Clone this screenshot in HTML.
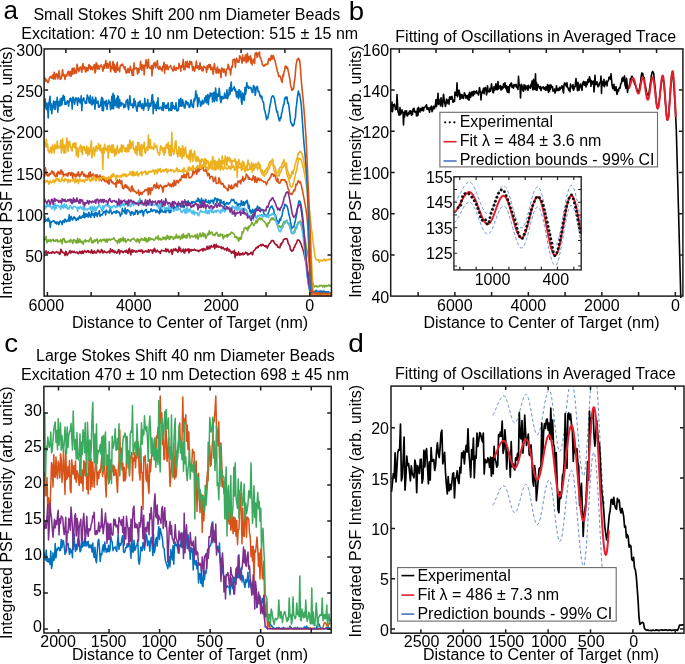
<!DOCTYPE html>
<html><head><meta charset="utf-8"><style>
html,body{margin:0;padding:0;background:#fff;}
svg{display:block;will-change:transform;}
text{fill:#000;font-family:"Liberation Sans", sans-serif;}
</style></head><body>
<svg width="685" height="664" viewBox="0 0 685 664" font-family="Liberation Sans, sans-serif">
<rect width="685" height="664" fill="#fff"/>
<defs><clipPath id="clipA"><rect x="44.1" y="48.9" width="287.4" height="247.20000000000002"/></clipPath></defs>
<g fill="none" stroke-width="1.6" stroke-linejoin="round" clip-path="url(#clipA)">
<polyline stroke="#A2142F" points="44.0,252.7 44.7,253.4 45.4,252.8 46.1,250.7 46.8,253.6 47.5,253.0 48.2,251.8 48.9,253.2 49.6,253.0 50.3,252.9 51.0,252.6 51.7,253.3 52.4,251.6 53.1,252.4 53.8,252.0 54.5,253.4 55.2,252.7 55.9,252.2 56.6,251.6 57.3,252.3 58.0,252.7 58.7,252.3 59.4,254.3 60.1,254.0 60.8,249.2 61.5,250.2 62.2,252.5 62.9,252.1 63.6,253.0 64.3,253.0 65.0,255.5 65.7,251.3 66.4,252.2 67.1,255.4 67.8,253.5 68.5,253.6 69.2,252.0 69.9,250.5 70.6,252.9 71.3,252.8 72.0,251.0 72.7,251.7 73.4,252.5 74.1,251.3 74.8,252.4 75.5,252.7 76.2,252.5 76.9,251.8 77.6,253.2 78.3,253.6 79.0,252.8 79.7,251.3 80.4,253.3 81.1,251.7 81.8,253.4 82.5,250.9 83.2,253.4 83.9,252.2 84.6,250.5 85.3,251.7 86.0,252.2 86.7,252.4 87.4,250.8 88.1,250.6 88.8,252.3 89.5,251.4 90.2,252.3 90.9,253.0 91.6,249.8 92.3,252.3 93.0,253.5 93.7,251.5 94.4,250.9 95.1,252.9 95.8,252.2 96.5,253.0 97.2,251.4 97.9,249.9 98.6,251.7 99.3,251.2 100.0,252.8 100.7,252.0 101.4,249.6 102.1,250.2 102.8,252.9 103.5,252.6 104.2,250.9 104.9,251.7 105.6,252.3 106.3,252.3 107.0,252.8 107.7,252.0 108.4,251.5 109.1,251.3 109.8,253.0 110.5,248.7 111.2,251.4 111.9,251.7 112.6,249.8 113.3,252.0 114.0,250.8 114.7,252.7 115.4,251.4 116.1,252.5 116.8,253.2 117.5,252.1 118.2,250.4 118.9,249.6 119.6,253.9 120.3,251.4 121.0,250.7 121.7,251.8 122.4,251.3 123.1,252.7 123.8,251.6 124.5,251.6 125.2,250.6 125.9,252.2 126.6,250.2 127.3,252.4 128.0,253.5 128.7,249.6 129.4,248.3 130.1,252.3 130.8,254.8 131.5,250.2 132.2,249.9 132.9,252.3 133.6,250.4 134.3,250.9 135.0,251.1 135.7,252.2 136.4,251.0 137.1,251.9 137.8,251.3 138.5,250.4 139.2,251.1 139.9,250.2 140.6,251.5 141.3,250.0 142.0,250.0 142.7,253.3 143.4,251.3 144.1,251.3 144.8,252.0 145.5,250.8 146.2,251.0 146.9,251.9 147.6,251.7 148.3,249.8 149.0,252.3 149.7,250.5 150.4,249.8 151.1,250.0 151.8,250.6 152.5,253.3 153.2,249.6 153.9,251.3 154.6,248.3 155.3,251.0 156.0,252.2 156.7,250.7 157.4,250.2 158.1,251.3 158.8,251.9 159.5,251.8 160.2,253.5 160.9,251.2 161.6,250.1 162.3,250.7 163.0,250.8 163.7,251.0 164.4,250.8 165.1,251.0 165.8,248.6 166.5,251.8 167.2,250.0 167.9,249.2 168.6,251.5 169.3,252.4 170.0,251.3 170.7,250.8 171.4,249.4 172.1,254.3 172.8,251.7 173.5,249.1 174.2,249.5 174.9,250.6 175.6,248.5 176.3,250.7 177.0,249.9 177.7,252.1 178.4,251.7 179.1,246.9 179.8,250.5 180.5,248.3 181.2,251.9 181.9,250.6 182.6,251.1 183.3,249.0 184.0,252.8 184.7,253.0 185.4,249.0 186.1,250.9 186.8,249.5 187.5,250.4 188.2,248.8 188.9,252.9 189.6,249.2 190.3,250.1 191.0,251.2 191.7,249.7 192.4,250.2 193.1,249.8 193.8,250.4 194.5,249.1 195.2,250.1 195.9,250.4 196.6,250.2 197.3,250.8 198.0,250.3 198.7,251.7 199.4,250.3 200.1,250.5 200.8,249.8 201.5,249.9 202.2,248.8 202.9,251.0 203.6,248.6 204.3,248.9 205.0,250.1 205.7,249.9 206.4,248.6 207.1,246.2 207.8,249.1 208.5,248.6 209.2,246.1 209.9,248.7 210.6,246.5 211.3,245.7 212.0,247.1 212.7,246.5 213.4,246.8 214.1,244.4 214.8,248.7 215.5,245.5 216.2,244.3 216.9,247.2 217.6,246.0 218.3,247.1 219.0,246.4 219.7,247.0 220.4,247.7 221.1,246.6 221.8,248.8 222.5,247.6 223.2,247.4 223.9,248.9 224.6,249.7 225.3,249.1 226.0,248.6 226.7,250.7 227.4,247.9 228.1,249.2 228.8,250.9 229.5,249.4 230.2,251.5 230.9,251.8 231.6,253.3 232.3,251.3 233.0,252.0 233.7,253.5 234.4,250.2 235.1,257.6 235.8,252.9 236.5,253.0 237.2,255.2 237.9,254.1 238.6,251.9 239.3,255.0 240.0,255.3 240.7,253.6 241.4,253.8 242.1,254.7 242.8,252.9 243.5,254.6 244.2,254.3 244.9,253.1 245.6,252.1 246.3,253.5 247.0,252.6 247.7,255.0 248.4,253.8 249.1,254.5 249.8,253.6 250.5,253.7 251.2,252.2 251.9,253.8 252.6,254.8 253.3,251.5 254.0,250.4 254.7,250.2 255.4,248.9 256.1,247.8 256.8,248.1 257.5,246.7 258.2,247.5 258.9,245.7 259.6,245.4 260.3,245.6 261.0,244.4 261.7,245.8 262.4,244.4 263.1,244.6 263.8,245.5 264.5,246.2 265.2,245.6 265.9,247.0 266.6,245.9 267.3,248.1 268.0,246.3 268.7,245.0 269.4,243.8 270.1,243.1 270.8,242.3 271.5,240.8 272.2,240.4 272.9,240.9 273.6,240.9 274.3,242.8 275.0,243.9 275.7,244.0 276.4,245.5 277.1,245.0 277.8,247.3 278.5,247.1 279.2,247.5 279.9,247.9 280.6,243.9 281.3,244.8 282.0,242.5 282.7,242.5 283.4,239.7 284.1,239.3 284.8,239.0 285.5,238.9 286.2,238.6 286.9,238.8 287.6,240.5 288.3,243.5 289.0,244.8 289.7,245.5 290.4,249.3 291.1,250.3 291.8,251.4 292.5,250.2 293.2,250.4 293.9,247.6 294.6,247.3 295.3,244.7 296.0,243.9 296.7,242.7 297.4,240.1 298.1,240.0 298.8,240.1 299.5,240.8 300.2,242.1 300.9,243.7 301.6,245.7 302.3,247.7 303.0,249.8 303.7,252.3 304.4,255.4 305.1,258.8 305.8,262.2 306.5,265.5 307.2,268.7 307.9,272.1 308.6,275.8 309.3,280.8 310.0,286.9 310.7,291.9 311.4,293.7 312.1,294.3 312.8,294.7 313.5,294.9 314.2,295.0 314.9,295.5 315.6,295.2 316.3,294.7 317.0,295.3 317.7,295.3 318.4,295.0 319.1,294.9 319.8,294.9 320.5,294.3 321.2,295.1 321.9,295.1 322.6,294.7 323.3,295.3 324.0,294.5 324.7,294.8 325.4,294.8 326.1,295.8 326.8,294.4 327.5,295.2 328.2,295.4 328.9,295.2 329.6,295.5 330.3,294.6 331.0,294.1"/>
<polyline stroke="#77AC30" points="44.0,240.2 44.7,239.2 45.4,239.4 46.1,236.6 46.8,242.6 47.5,241.8 48.2,239.7 48.9,241.3 49.6,240.7 50.3,239.6 51.0,241.8 51.7,240.0 52.4,240.0 53.1,239.4 53.8,241.2 54.5,240.5 55.2,241.4 55.9,239.8 56.6,240.9 57.3,239.5 58.0,242.0 58.7,241.1 59.4,241.3 60.1,241.4 60.8,239.5 61.5,242.0 62.2,243.8 62.9,238.7 63.6,238.5 64.3,238.9 65.0,242.2 65.7,241.2 66.4,242.5 67.1,242.0 67.8,241.3 68.5,241.4 69.2,240.8 69.9,242.2 70.6,239.4 71.3,240.4 72.0,241.3 72.7,243.5 73.4,239.9 74.1,239.5 74.8,240.2 75.5,242.4 76.2,240.7 76.9,242.9 77.6,238.4 78.3,242.6 79.0,242.4 79.7,239.0 80.4,241.2 81.1,242.7 81.8,241.1 82.5,242.4 83.2,244.3 83.9,241.4 84.6,240.6 85.3,239.9 86.0,241.9 86.7,240.7 87.4,240.7 88.1,240.9 88.8,241.9 89.5,239.5 90.2,238.9 90.9,237.6 91.6,242.7 92.3,241.1 93.0,243.1 93.7,240.9 94.4,239.9 95.1,241.6 95.8,240.7 96.5,239.1 97.2,239.5 97.9,243.2 98.6,241.2 99.3,241.2 100.0,240.2 100.7,239.6 101.4,241.8 102.1,240.3 102.8,239.4 103.5,240.2 104.2,239.1 104.9,240.6 105.6,241.9 106.3,239.1 107.0,242.2 107.7,239.2 108.4,240.4 109.1,238.9 109.8,239.8 110.5,240.1 111.2,239.4 111.9,239.0 112.6,239.1 113.3,238.9 114.0,237.8 114.7,239.6 115.4,240.6 116.1,241.3 116.8,240.9 117.5,243.4 118.2,240.4 118.9,239.4 119.6,242.6 120.3,238.5 121.0,241.4 121.7,238.7 122.4,240.5 123.1,237.2 123.8,241.3 124.5,239.8 125.2,238.6 125.9,242.3 126.6,241.1 127.3,240.1 128.0,239.0 128.7,239.9 129.4,239.8 130.1,241.0 130.8,241.1 131.5,239.1 132.2,239.2 132.9,239.3 133.6,238.1 134.3,239.2 135.0,239.9 135.7,241.0 136.4,241.8 137.1,238.9 137.8,240.8 138.5,239.4 139.2,242.9 139.9,239.9 140.6,240.7 141.3,238.6 142.0,238.8 142.7,240.2 143.4,239.3 144.1,240.3 144.8,237.6 145.5,240.7 146.2,238.5 146.9,242.1 147.6,239.2 148.3,241.1 149.0,237.6 149.7,240.1 150.4,238.2 151.1,238.7 151.8,239.4 152.5,238.9 153.2,239.6 153.9,240.3 154.6,240.1 155.3,239.0 156.0,237.1 156.7,237.9 157.4,238.7 158.1,235.9 158.8,239.9 159.5,238.5 160.2,238.4 160.9,240.0 161.6,239.6 162.3,238.9 163.0,237.1 163.7,238.9 164.4,238.9 165.1,237.1 165.8,239.7 166.5,238.9 167.2,235.4 167.9,238.2 168.6,236.2 169.3,239.5 170.0,238.9 170.7,236.2 171.4,236.4 172.1,237.7 172.8,237.1 173.5,239.5 174.2,238.3 174.9,236.8 175.6,238.0 176.3,234.2 177.0,237.4 177.7,238.1 178.4,236.6 179.1,235.8 179.8,237.5 180.5,239.4 181.2,236.9 181.9,235.0 182.6,238.5 183.3,233.8 184.0,237.1 184.7,235.6 185.4,237.6 186.1,235.1 186.8,238.1 187.5,236.7 188.2,233.8 188.9,233.5 189.6,235.8 190.3,238.0 191.0,236.3 191.7,236.2 192.4,235.8 193.1,237.1 193.8,236.6 194.5,236.5 195.2,234.7 195.9,237.7 196.6,237.9 197.3,234.1 198.0,239.1 198.7,236.9 199.4,235.2 200.1,233.1 200.8,236.6 201.5,236.4 202.2,234.6 202.9,232.7 203.6,236.6 204.3,234.0 205.0,234.0 205.7,238.4 206.4,237.3 207.1,235.5 207.8,233.4 208.5,234.9 209.2,230.8 209.9,234.2 210.6,233.0 211.3,232.3 212.0,232.0 212.7,235.0 213.4,234.5 214.1,234.6 214.8,235.7 215.5,233.4 216.2,233.0 216.9,232.3 217.6,234.4 218.3,236.1 219.0,235.0 219.7,236.2 220.4,233.9 221.1,235.1 221.8,234.9 222.5,234.4 223.2,238.9 223.9,237.6 224.6,235.5 225.3,235.6 226.0,236.6 226.7,234.7 227.4,237.1 228.1,234.4 228.8,235.4 229.5,234.1 230.2,234.4 230.9,232.9 231.6,232.2 232.3,232.8 233.0,233.1 233.7,233.7 234.4,234.6 235.1,237.2 235.8,237.1 236.5,236.5 237.2,238.7 237.9,237.5 238.6,241.1 239.3,240.1 240.0,237.2 240.7,239.3 241.4,238.2 242.1,231.8 242.8,232.9 243.5,231.6 244.2,228.1 244.9,228.0 245.6,227.4 246.3,228.8 247.0,228.0 247.7,230.8 248.4,226.2 249.1,228.0 249.8,226.1 250.5,226.0 251.2,223.6 251.9,222.2 252.6,223.3 253.3,225.0 254.0,225.5 254.7,223.6 255.4,222.8 256.1,220.2 256.8,222.9 257.5,222.0 258.2,219.1 258.9,219.1 259.6,217.8 260.3,219.8 261.0,218.7 261.7,218.3 262.4,219.4 263.1,220.6 263.8,221.1 264.5,221.8 265.2,222.9 265.9,223.4 266.6,225.7 267.3,227.0 268.0,222.8 268.7,223.5 269.4,222.6 270.1,220.1 270.8,220.1 271.5,218.0 272.2,219.5 272.9,217.8 273.6,218.8 274.3,220.1 275.0,220.1 275.7,220.1 276.4,222.5 277.1,225.0 277.8,225.3 278.5,226.5 279.2,225.9 279.9,227.1 280.6,227.4 281.3,226.2 282.0,227.2 282.7,224.4 283.4,222.8 284.1,221.3 284.8,223.0 285.5,221.3 286.2,221.9 286.9,221.3 287.6,223.0 288.3,223.9 289.0,224.1 289.7,226.6 290.4,229.2 291.1,228.9 291.8,232.7 292.5,233.3 293.2,233.1 293.9,231.5 294.6,230.9 295.3,228.2 296.0,227.6 296.7,225.3 297.4,224.3 298.1,222.3 298.8,221.9 299.5,222.1 300.2,221.0 300.9,221.9 301.6,223.6 302.3,225.7 303.0,228.0 303.7,231.0 304.4,235.1 305.1,239.6 305.8,243.9 306.5,247.6 307.2,251.2 307.9,254.8 308.6,258.5 309.3,262.5 310.0,266.5 310.7,270.6 311.4,275.3 312.1,279.7 312.8,282.5 313.5,284.7 314.2,287.0 314.9,286.2 315.6,286.2 316.3,285.8 317.0,286.7 317.7,286.3 318.4,287.0 319.1,286.2 319.8,285.4 320.5,285.7 321.2,285.4 321.9,285.2 322.6,286.8 323.3,286.5 324.0,285.3 324.7,287.1 325.4,286.1 326.1,285.4 326.8,286.2 327.5,286.0 328.2,285.5 328.9,284.8 329.6,286.0 330.3,286.2 331.0,284.5"/>
<polyline stroke="#0072BD" points="44.0,223.5 44.7,215.9 45.4,221.3 46.1,219.8 46.8,220.2 47.5,220.9 48.2,218.0 48.9,221.2 49.6,220.3 50.3,227.5 51.0,222.4 51.7,221.5 52.4,221.7 53.1,221.1 53.8,220.5 54.5,221.7 55.2,223.2 55.9,222.0 56.6,224.0 57.3,222.0 58.0,222.3 58.7,224.8 59.4,222.9 60.1,221.0 60.8,221.4 61.5,222.4 62.2,224.6 62.9,220.7 63.6,220.5 64.3,222.5 65.0,219.1 65.7,219.9 66.4,221.7 67.1,221.0 67.8,220.1 68.5,220.9 69.2,214.8 69.9,221.2 70.6,217.7 71.3,216.4 72.0,219.5 72.7,220.1 73.4,218.0 74.1,216.8 74.8,218.5 75.5,218.2 76.2,220.6 76.9,219.3 77.6,218.2 78.3,219.7 79.0,217.3 79.7,215.9 80.4,218.3 81.1,218.2 81.8,216.7 82.5,215.6 83.2,217.2 83.9,212.4 84.6,217.7 85.3,217.2 86.0,213.5 86.7,216.2 87.4,214.3 88.1,217.1 88.8,212.3 89.5,214.1 90.2,216.7 90.9,217.3 91.6,211.6 92.3,214.3 93.0,215.5 93.7,213.8 94.4,217.4 95.1,212.6 95.8,215.0 96.5,212.5 97.2,216.5 97.9,214.0 98.6,213.2 99.3,210.8 100.0,216.5 100.7,214.7 101.4,214.6 102.1,215.1 102.8,213.7 103.5,211.9 104.2,211.5 104.9,211.4 105.6,214.9 106.3,210.0 107.0,211.4 107.7,211.8 108.4,212.6 109.1,213.1 109.8,210.0 110.5,209.1 111.2,212.0 111.9,214.0 112.6,213.2 113.3,212.3 114.0,211.4 114.7,212.4 115.4,211.5 116.1,213.3 116.8,210.5 117.5,212.1 118.2,211.7 118.9,212.8 119.6,212.3 120.3,216.2 121.0,214.4 121.7,214.4 122.4,208.4 123.1,211.3 123.8,210.9 124.5,212.8 125.2,208.0 125.9,213.9 126.6,213.7 127.3,209.7 128.0,210.2 128.7,210.5 129.4,212.0 130.1,213.0 130.8,215.4 131.5,211.6 132.2,213.2 132.9,212.2 133.6,214.9 134.3,213.2 135.0,214.2 135.7,210.1 136.4,211.6 137.1,210.5 137.8,214.5 138.5,213.0 139.2,211.4 139.9,211.1 140.6,212.7 141.3,210.7 142.0,210.3 142.7,212.6 143.4,216.0 144.1,211.4 144.8,210.8 145.5,209.7 146.2,209.4 146.9,212.6 147.6,213.1 148.3,211.6 149.0,212.1 149.7,211.7 150.4,211.7 151.1,208.8 151.8,210.6 152.5,211.5 153.2,210.0 153.9,210.4 154.6,209.8 155.3,210.6 156.0,212.5 156.7,210.3 157.4,210.7 158.1,212.3 158.8,212.0 159.5,213.7 160.2,207.2 160.9,212.1 161.6,209.8 162.3,210.8 163.0,211.9 163.7,212.2 164.4,212.0 165.1,210.4 165.8,212.7 166.5,209.3 167.2,209.4 167.9,210.8 168.6,208.4 169.3,212.8 170.0,210.7 170.7,212.4 171.4,208.5 172.1,207.7 172.8,208.4 173.5,209.2 174.2,206.7 174.9,208.1 175.6,207.3 176.3,209.8 177.0,205.7 177.7,208.4 178.4,205.3 179.1,204.6 179.8,204.8 180.5,203.8 181.2,205.9 181.9,207.2 182.6,205.6 183.3,206.2 184.0,207.7 184.7,205.2 185.4,204.9 186.1,204.0 186.8,201.5 187.5,205.4 188.2,200.9 188.9,204.8 189.6,203.5 190.3,205.2 191.0,203.0 191.7,201.5 192.4,203.3 193.1,201.6 193.8,202.1 194.5,202.3 195.2,201.9 195.9,201.7 196.6,200.4 197.3,201.4 198.0,198.1 198.7,201.4 199.4,199.6 200.1,203.5 200.8,203.8 201.5,198.4 202.2,202.0 202.9,201.6 203.6,200.1 204.3,202.9 205.0,201.4 205.7,199.2 206.4,201.9 207.1,202.2 207.8,202.6 208.5,200.4 209.2,203.5 209.9,203.6 210.6,200.2 211.3,200.7 212.0,201.3 212.7,200.1 213.4,203.6 214.1,200.5 214.8,198.1 215.5,198.1 216.2,199.1 216.9,203.0 217.6,198.7 218.3,199.3 219.0,200.3 219.7,199.8 220.4,204.2 221.1,200.0 221.8,202.8 222.5,202.5 223.2,203.8 223.9,201.3 224.6,206.8 225.3,203.9 226.0,204.3 226.7,202.6 227.4,202.6 228.1,204.1 228.8,204.0 229.5,202.7 230.2,202.6 230.9,201.0 231.6,199.3 232.3,200.4 233.0,200.2 233.7,199.4 234.4,201.6 235.1,203.4 235.8,202.5 236.5,202.4 237.2,204.9 237.9,207.4 238.6,203.9 239.3,204.1 240.0,203.9 240.7,206.0 241.4,200.6 242.1,204.1 242.8,205.3 243.5,201.7 244.2,205.4 244.9,203.6 245.6,201.6 246.3,202.8 247.0,200.2 247.7,202.7 248.4,208.2 249.1,205.2 249.8,211.6 250.5,210.1 251.2,213.3 251.9,212.7 252.6,209.2 253.3,211.9 254.0,212.8 254.7,209.9 255.4,208.9 256.1,211.0 256.8,208.5 257.5,206.0 258.2,207.7 258.9,208.7 259.6,207.4 260.3,208.9 261.0,210.0 261.7,209.5 262.4,209.6 263.1,210.6 263.8,212.9 264.5,214.8 265.2,215.1 265.9,216.0 266.6,215.3 267.3,215.5 268.0,213.7 268.7,212.3 269.4,209.6 270.1,207.7 270.8,207.3 271.5,206.0 272.2,206.2 272.9,208.6 273.6,209.4 274.3,214.1 275.0,214.6 275.7,215.6 276.4,219.1 277.1,220.7 277.8,221.2 278.5,223.6 279.2,221.8 279.9,218.7 280.6,220.4 281.3,216.8 282.0,216.0 282.7,211.3 283.4,208.2 284.1,208.4 284.8,204.4 285.5,204.6 286.2,205.8 286.9,205.9 287.6,208.0 288.3,211.1 289.0,215.1 289.7,217.1 290.4,221.7 291.1,224.6 291.8,228.5 292.5,227.4 293.2,226.9 293.9,227.1 294.6,223.6 295.3,221.0 296.0,217.1 296.7,214.1 297.4,208.7 298.1,205.8 298.8,201.0 299.5,201.0 300.2,201.9 300.9,204.3 301.6,208.5 302.3,213.5 303.0,219.5 303.7,228.0 304.4,237.5 305.1,246.2 305.8,254.9 306.5,264.0 307.2,272.6 307.9,279.8 308.6,284.6 309.3,287.3 310.0,289.6 310.7,290.9 311.4,291.3 312.1,290.9 312.8,291.4 313.5,291.2 314.2,291.5 314.9,291.3 315.6,291.0 316.3,290.3 317.0,291.2 317.7,291.4 318.4,291.2 319.1,291.4 319.8,291.0 320.5,291.1 321.2,290.9 321.9,291.9 322.6,291.5 323.3,291.3 324.0,291.0 324.7,291.6 325.4,292.3 326.1,292.0 326.8,291.6 327.5,292.5 328.2,292.6 328.9,292.6 329.6,292.6 330.3,292.8 331.0,292.7"/>
<polyline stroke="#4DBEEE" points="44.0,205.0 44.7,205.8 45.4,208.7 46.1,207.2 46.8,203.5 47.5,206.2 48.2,205.2 48.9,206.5 49.6,203.7 50.3,206.7 51.0,206.7 51.7,208.9 52.4,206.9 53.1,207.3 53.8,204.1 54.5,210.1 55.2,203.5 55.9,208.4 56.6,206.1 57.3,205.3 58.0,205.7 58.7,205.7 59.4,207.4 60.1,206.6 60.8,209.2 61.5,204.0 62.2,206.9 62.9,205.5 63.6,208.2 64.3,203.7 65.0,206.5 65.7,207.4 66.4,204.8 67.1,208.8 67.8,207.5 68.5,208.9 69.2,208.8 69.9,205.8 70.6,206.1 71.3,207.1 72.0,208.7 72.7,208.9 73.4,206.4 74.1,206.6 74.8,206.4 75.5,206.8 76.2,207.4 76.9,207.6 77.6,211.1 78.3,207.1 79.0,207.5 79.7,208.7 80.4,206.5 81.1,207.5 81.8,208.1 82.5,209.4 83.2,206.1 83.9,210.4 84.6,207.7 85.3,208.6 86.0,209.7 86.7,209.4 87.4,210.0 88.1,208.6 88.8,208.4 89.5,208.9 90.2,206.8 90.9,210.3 91.6,207.2 92.3,206.4 93.0,211.6 93.7,208.1 94.4,206.4 95.1,211.2 95.8,207.7 96.5,209.9 97.2,206.8 97.9,207.6 98.6,205.3 99.3,204.9 100.0,206.3 100.7,207.6 101.4,208.9 102.1,211.5 102.8,205.8 103.5,209.0 104.2,206.4 104.9,207.0 105.6,204.8 106.3,204.7 107.0,205.7 107.7,204.9 108.4,206.7 109.1,205.5 109.8,208.6 110.5,206.7 111.2,206.6 111.9,208.1 112.6,207.0 113.3,206.0 114.0,205.9 114.7,205.7 115.4,207.5 116.1,207.0 116.8,206.2 117.5,206.8 118.2,204.5 118.9,206.0 119.6,202.8 120.3,207.1 121.0,205.0 121.7,205.0 122.4,205.5 123.1,204.4 123.8,203.9 124.5,206.0 125.2,204.2 125.9,202.4 126.6,204.4 127.3,200.9 128.0,206.1 128.7,203.1 129.4,203.3 130.1,206.7 130.8,206.5 131.5,203.1 132.2,203.8 132.9,204.5 133.6,205.4 134.3,202.4 135.0,202.8 135.7,204.5 136.4,202.9 137.1,203.7 137.8,203.5 138.5,200.7 139.2,201.2 139.9,198.4 140.6,202.2 141.3,204.8 142.0,201.0 142.7,204.8 143.4,204.5 144.1,202.9 144.8,203.1 145.5,203.3 146.2,201.9 146.9,203.0 147.6,203.4 148.3,204.6 149.0,205.0 149.7,202.6 150.4,205.2 151.1,202.8 151.8,203.9 152.5,204.9 153.2,204.4 153.9,204.3 154.6,205.1 155.3,204.0 156.0,203.9 156.7,204.8 157.4,206.8 158.1,205.3 158.8,208.6 159.5,206.1 160.2,201.1 160.9,205.3 161.6,208.8 162.3,206.3 163.0,205.7 163.7,205.2 164.4,208.9 165.1,208.5 165.8,208.1 166.5,207.9 167.2,209.7 167.9,208.8 168.6,205.7 169.3,209.1 170.0,208.3 170.7,208.0 171.4,209.5 172.1,208.5 172.8,203.9 173.5,211.3 174.2,210.6 174.9,208.9 175.6,208.6 176.3,209.7 177.0,207.5 177.7,210.1 178.4,209.4 179.1,209.3 179.8,208.6 180.5,209.1 181.2,212.0 181.9,212.5 182.6,211.3 183.3,210.5 184.0,209.3 184.7,211.9 185.4,213.4 186.1,208.4 186.8,212.9 187.5,207.7 188.2,210.7 188.9,211.9 189.6,209.2 190.3,209.1 191.0,211.9 191.7,213.1 192.4,211.0 193.1,214.0 193.8,210.6 194.5,214.7 195.2,212.2 195.9,212.4 196.6,213.1 197.3,212.6 198.0,215.1 198.7,215.7 199.4,213.1 200.1,211.9 200.8,210.3 201.5,211.0 202.2,212.2 202.9,212.0 203.6,212.0 204.3,212.0 205.0,212.8 205.7,209.7 206.4,210.2 207.1,213.6 207.8,213.0 208.5,210.7 209.2,213.6 209.9,210.3 210.6,210.9 211.3,208.3 212.0,212.5 212.7,211.0 213.4,212.7 214.1,212.0 214.8,210.9 215.5,210.9 216.2,212.5 216.9,210.2 217.6,210.2 218.3,210.4 219.0,211.5 219.7,211.6 220.4,213.1 221.1,209.7 221.8,211.8 222.5,208.6 223.2,210.5 223.9,209.6 224.6,212.0 225.3,210.1 226.0,208.2 226.7,209.7 227.4,209.2 228.1,208.1 228.8,208.0 229.5,206.8 230.2,212.7 230.9,208.4 231.6,209.6 232.3,206.1 233.0,206.2 233.7,207.7 234.4,207.6 235.1,209.2 235.8,206.3 236.5,208.8 237.2,210.4 237.9,206.7 238.6,209.7 239.3,206.8 240.0,209.1 240.7,209.3 241.4,211.7 242.1,208.1 242.8,209.7 243.5,211.4 244.2,208.1 244.9,210.2 245.6,209.2 246.3,209.8 247.0,212.3 247.7,212.8 248.4,216.5 249.1,215.6 249.8,216.6 250.5,215.3 251.2,216.1 251.9,217.4 252.6,213.8 253.3,220.1 254.0,216.2 254.7,215.4 255.4,216.1 256.1,218.0 256.8,218.4 257.5,215.5 258.2,216.3 258.9,215.7 259.6,214.8 260.3,215.9 261.0,215.8 261.7,214.5 262.4,217.0 263.1,214.7 263.8,216.5 264.5,215.4 265.2,215.7 265.9,215.9 266.6,217.2 267.3,215.3 268.0,216.1 268.7,217.4 269.4,215.0 270.1,215.2 270.8,215.4 271.5,214.0 272.2,214.6 272.9,213.4 273.6,214.5 274.3,214.6 275.0,215.4 275.7,220.0 276.4,221.5 277.1,224.3 277.8,226.5 278.5,229.2 279.2,231.0 279.9,231.5 280.6,231.9 281.3,228.7 282.0,228.2 282.7,228.0 283.4,225.4 284.1,223.9 284.8,223.5 285.5,221.2 286.2,220.6 286.9,220.0 287.6,222.4 288.3,223.3 289.0,223.7 289.7,227.2 290.4,228.0 291.1,232.1 291.8,233.4 292.5,233.7 293.2,233.6 293.9,231.8 294.6,233.0 295.3,230.8 296.0,229.0 296.7,228.3 297.4,225.4 298.1,224.0 298.8,222.8 299.5,221.6 300.2,222.9 300.9,224.5 301.6,227.4 302.3,231.0 303.0,235.3 303.7,241.8 304.4,249.1 305.1,255.9 305.8,262.5 306.5,269.3 307.2,275.8 307.9,281.4 308.6,285.5 309.3,289.0 310.0,292.0 310.7,293.8 311.4,293.7 312.1,294.2 312.8,294.2 313.5,293.6 314.2,294.1 314.9,293.7 315.6,293.4 316.3,293.3 317.0,294.7 317.7,294.2 318.4,295.1 319.1,293.7 319.8,294.2 320.5,294.5 321.2,294.3 321.9,294.6 322.6,294.4 323.3,294.1 324.0,293.5 324.7,294.0 325.4,295.1 326.1,294.7 326.8,295.0 327.5,294.2 328.2,294.4 328.9,294.1 329.6,294.6 330.3,294.5 331.0,294.6"/>
<polyline stroke="#7E2F8E" points="44.0,200.0 44.7,199.0 45.4,201.0 46.1,202.2 46.8,203.5 47.5,201.6 48.2,200.4 48.9,200.0 49.6,202.8 50.3,204.4 51.0,201.9 51.7,199.2 52.4,199.7 53.1,204.3 53.8,201.8 54.5,198.3 55.2,201.3 55.9,199.4 56.6,200.3 57.3,200.6 58.0,200.2 58.7,202.5 59.4,201.4 60.1,200.4 60.8,202.2 61.5,203.0 62.2,198.5 62.9,201.0 63.6,199.7 64.3,201.2 65.0,199.2 65.7,201.6 66.4,201.5 67.1,201.0 67.8,199.6 68.5,200.8 69.2,199.6 69.9,199.1 70.6,202.0 71.3,199.6 72.0,203.7 72.7,202.8 73.4,198.0 74.1,202.1 74.8,199.6 75.5,201.6 76.2,201.7 76.9,198.0 77.6,201.2 78.3,201.1 79.0,203.3 79.7,199.5 80.4,202.9 81.1,199.6 81.8,201.0 82.5,200.1 83.2,204.2 83.9,202.6 84.6,206.0 85.3,202.8 86.0,203.2 86.7,203.1 87.4,200.5 88.1,201.5 88.8,204.1 89.5,200.9 90.2,202.0 90.9,201.6 91.6,202.8 92.3,201.0 93.0,201.4 93.7,202.1 94.4,201.9 95.1,200.1 95.8,203.3 96.5,199.3 97.2,199.5 97.9,199.4 98.6,203.4 99.3,201.0 100.0,200.0 100.7,199.7 101.4,202.5 102.1,199.8 102.8,199.4 103.5,202.8 104.2,199.6 104.9,201.2 105.6,201.7 106.3,200.9 107.0,201.6 107.7,204.2 108.4,200.8 109.1,199.5 109.8,198.5 110.5,201.4 111.2,201.1 111.9,202.3 112.6,201.0 113.3,200.9 114.0,200.5 114.7,200.9 115.4,202.1 116.1,201.1 116.8,202.0 117.5,205.3 118.2,202.7 118.9,199.0 119.6,205.0 120.3,202.5 121.0,200.2 121.7,203.5 122.4,201.9 123.1,200.8 123.8,200.8 124.5,200.1 125.2,202.0 125.9,203.9 126.6,201.4 127.3,202.7 128.0,205.4 128.7,199.8 129.4,202.5 130.1,201.5 130.8,200.1 131.5,200.2 132.2,202.1 132.9,202.9 133.6,201.2 134.3,202.2 135.0,203.4 135.7,202.7 136.4,203.7 137.1,203.0 137.8,203.1 138.5,205.5 139.2,203.4 139.9,202.5 140.6,203.5 141.3,200.6 142.0,201.7 142.7,203.7 143.4,203.5 144.1,205.1 144.8,202.4 145.5,199.8 146.2,205.9 146.9,204.4 147.6,200.5 148.3,204.9 149.0,202.5 149.7,199.2 150.4,201.8 151.1,201.6 151.8,205.4 152.5,201.1 153.2,202.1 153.9,202.1 154.6,201.9 155.3,201.0 156.0,203.0 156.7,204.6 157.4,203.8 158.1,201.0 158.8,200.7 159.5,203.0 160.2,201.5 160.9,201.7 161.6,199.8 162.3,206.3 163.0,204.5 163.7,201.1 164.4,204.5 165.1,205.3 165.8,198.6 166.5,202.0 167.2,202.3 167.9,204.2 168.6,202.8 169.3,202.6 170.0,203.0 170.7,206.4 171.4,207.0 172.1,202.2 172.8,201.5 173.5,208.1 174.2,201.5 174.9,202.2 175.6,203.4 176.3,204.2 177.0,205.2 177.7,204.1 178.4,201.9 179.1,204.4 179.8,203.9 180.5,206.9 181.2,203.5 181.9,201.2 182.6,201.7 183.3,206.3 184.0,202.7 184.7,199.9 185.4,202.7 186.1,203.8 186.8,206.0 187.5,202.1 188.2,205.2 188.9,205.4 189.6,202.8 190.3,203.8 191.0,207.4 191.7,207.3 192.4,205.8 193.1,204.9 193.8,206.5 194.5,204.2 195.2,204.4 195.9,203.1 196.6,204.7 197.3,204.6 198.0,209.8 198.7,204.6 199.4,207.3 200.1,207.5 200.8,204.9 201.5,207.5 202.2,201.6 202.9,205.9 203.6,207.5 204.3,201.8 205.0,204.2 205.7,208.4 206.4,206.2 207.1,204.8 207.8,206.2 208.5,205.9 209.2,208.2 209.9,207.7 210.6,206.3 211.3,205.5 212.0,206.5 212.7,208.9 213.4,207.0 214.1,207.5 214.8,205.9 215.5,203.8 216.2,204.8 216.9,207.2 217.6,206.2 218.3,204.4 219.0,203.1 219.7,206.3 220.4,205.5 221.1,205.5 221.8,205.6 222.5,206.8 223.2,206.9 223.9,208.2 224.6,208.3 225.3,209.1 226.0,208.3 226.7,206.4 227.4,207.2 228.1,208.7 228.8,207.8 229.5,210.0 230.2,211.8 230.9,209.0 231.6,207.9 232.3,213.9 233.0,212.3 233.7,213.9 234.4,210.5 235.1,216.1 235.8,214.3 236.5,212.8 237.2,212.4 237.9,213.2 238.6,212.7 239.3,212.5 240.0,211.0 240.7,215.3 241.4,212.9 242.1,213.1 242.8,213.2 243.5,208.8 244.2,214.0 244.9,212.8 245.6,213.5 246.3,214.9 247.0,214.0 247.7,218.1 248.4,216.3 249.1,216.7 249.8,217.3 250.5,219.5 251.2,220.5 251.9,217.5 252.6,214.9 253.3,218.3 254.0,213.1 254.7,215.7 255.4,212.0 256.1,209.7 256.8,208.9 257.5,210.4 258.2,210.3 258.9,209.4 259.6,210.6 260.3,211.9 261.0,210.1 261.7,209.5 262.4,209.9 263.1,209.8 263.8,210.6 264.5,210.6 265.2,210.0 265.9,210.9 266.6,206.8 267.3,206.3 268.0,207.4 268.7,204.5 269.4,202.2 270.1,200.5 270.8,200.4 271.5,198.7 272.2,198.3 272.9,197.7 273.6,199.9 274.3,200.8 275.0,202.4 275.7,204.1 276.4,206.4 277.1,207.5 277.8,209.7 278.5,208.2 279.2,209.2 279.9,210.5 280.6,207.7 281.3,207.3 282.0,205.5 282.7,203.8 283.4,201.3 284.1,197.4 284.8,196.6 285.5,194.9 286.2,192.6 286.9,192.8 287.6,191.8 288.3,192.3 289.0,196.4 289.7,199.6 290.4,203.0 291.1,207.0 291.8,211.3 292.5,214.6 293.2,216.6 293.9,217.3 294.6,216.3 295.3,215.6 296.0,213.8 296.7,211.5 297.4,208.4 298.1,206.4 298.8,205.8 299.5,204.3 300.2,204.6 300.9,207.7 301.6,212.8 302.3,218.5 303.0,224.2 303.7,231.1 304.4,238.6 305.1,246.0 305.8,253.9 306.5,262.3 307.2,270.4 307.9,277.4 308.6,282.6 309.3,287.1 310.0,290.9 310.7,293.2 311.4,293.2 312.1,293.3 312.8,293.0 313.5,293.4 314.2,294.8 314.9,293.4 315.6,294.5 316.3,294.3 317.0,294.3 317.7,294.3 318.4,293.1 319.1,294.1 319.8,294.9 320.5,293.3 321.2,293.8 321.9,293.4 322.6,294.1 323.3,293.1 324.0,295.0 324.7,293.6 325.4,292.8 326.1,295.1 326.8,294.6 327.5,294.3 328.2,294.3 328.9,293.6 329.6,293.7 330.3,294.4 331.0,294.5"/>
<polyline stroke="#D95319" points="44.0,174.9 44.7,176.4 45.4,167.7 46.1,172.6 46.8,174.9 47.5,175.6 48.2,174.3 48.9,176.0 49.6,173.6 50.3,174.2 51.0,173.4 51.7,171.0 52.4,171.4 53.1,173.9 53.8,172.0 54.5,175.8 55.2,175.9 55.9,176.9 56.6,173.3 57.3,176.1 58.0,171.6 58.7,171.8 59.4,173.6 60.1,174.1 60.8,170.3 61.5,170.1 62.2,174.3 62.9,171.9 63.6,176.1 64.3,174.5 65.0,174.4 65.7,174.2 66.4,175.6 67.1,173.6 67.8,176.1 68.5,172.9 69.2,173.5 69.9,172.7 70.6,175.3 71.3,174.2 72.0,172.4 72.7,178.2 73.4,173.5 74.1,174.1 74.8,175.1 75.5,177.9 76.2,174.1 76.9,175.9 77.6,174.7 78.3,171.7 79.0,176.2 79.7,176.7 80.4,174.3 81.1,174.8 81.8,171.8 82.5,171.9 83.2,174.2 83.9,176.3 84.6,174.1 85.3,175.7 86.0,177.1 86.7,175.4 87.4,176.5 88.1,178.3 88.8,173.0 89.5,177.0 90.2,171.9 90.9,176.6 91.6,176.2 92.3,174.8 93.0,173.8 93.7,176.0 94.4,175.4 95.1,176.6 95.8,174.8 96.5,177.9 97.2,174.9 97.9,176.6 98.6,176.7 99.3,180.2 100.0,175.0 100.7,177.4 101.4,180.9 102.1,177.5 102.8,176.6 103.5,179.9 104.2,179.0 104.9,181.6 105.6,178.3 106.3,180.8 107.0,182.0 107.7,183.0 108.4,178.9 109.1,184.2 109.8,179.8 110.5,178.8 111.2,180.1 111.9,182.6 112.6,181.8 113.3,183.6 114.0,183.9 114.7,183.8 115.4,182.9 116.1,187.2 116.8,179.4 117.5,180.6 118.2,183.2 118.9,182.0 119.6,179.6 120.3,183.3 121.0,183.7 121.7,180.5 122.4,187.3 123.1,188.5 123.8,188.6 124.5,185.3 125.2,186.9 125.9,184.6 126.6,187.5 127.3,186.1 128.0,188.6 128.7,187.4 129.4,190.5 130.1,190.4 130.8,191.6 131.5,186.2 132.2,186.1 132.9,190.9 133.6,189.2 134.3,191.5 135.0,191.6 135.7,191.6 136.4,193.3 137.1,192.7 137.8,192.7 138.5,190.1 139.2,195.4 139.9,192.3 140.6,194.2 141.3,192.6 142.0,194.4 142.7,192.0 143.4,192.0 144.1,191.7 144.8,189.8 145.5,189.9 146.2,190.5 146.9,190.3 147.6,188.4 148.3,194.8 149.0,187.8 149.7,188.9 150.4,194.2 151.1,187.7 151.8,190.3 152.5,189.8 153.2,187.8 153.9,185.2 154.6,184.7 155.3,187.6 156.0,188.3 156.7,183.0 157.4,187.4 158.1,185.6 158.8,188.6 159.5,187.0 160.2,184.9 160.9,185.5 161.6,186.3 162.3,188.7 163.0,192.0 163.7,186.4 164.4,185.8 165.1,186.8 165.8,185.3 166.5,186.5 167.2,185.8 167.9,184.9 168.6,183.1 169.3,184.8 170.0,186.1 170.7,184.2 171.4,186.8 172.1,185.4 172.8,183.0 173.5,186.4 174.2,180.3 174.9,184.5 175.6,185.4 176.3,180.8 177.0,180.6 177.7,182.2 178.4,182.8 179.1,180.3 179.8,179.5 180.5,180.5 181.2,178.9 181.9,175.6 182.6,177.3 183.3,177.4 184.0,174.1 184.7,177.6 185.4,175.1 186.1,177.8 186.8,173.0 187.5,173.9 188.2,172.6 188.9,177.8 189.6,177.5 190.3,177.6 191.0,177.4 191.7,176.0 192.4,175.7 193.1,170.2 193.8,173.9 194.5,171.9 195.2,171.8 195.9,169.7 196.6,174.4 197.3,171.7 198.0,168.1 198.7,171.7 199.4,170.3 200.1,168.0 200.8,169.3 201.5,168.2 202.2,165.0 202.9,166.5 203.6,170.6 204.3,170.7 205.0,171.2 205.7,169.1 206.4,171.2 207.1,173.5 207.8,175.7 208.5,173.4 209.2,173.7 209.9,178.7 210.6,177.0 211.3,176.6 212.0,176.3 212.7,176.8 213.4,181.7 214.1,180.9 214.8,178.4 215.5,177.1 216.2,183.4 216.9,183.5 217.6,183.2 218.3,182.8 219.0,177.8 219.7,179.4 220.4,183.6 221.1,182.5 221.8,184.3 222.5,183.5 223.2,184.0 223.9,187.2 224.6,186.0 225.3,187.4 226.0,188.3 226.7,188.5 227.4,190.3 228.1,190.7 228.8,185.1 229.5,187.2 230.2,186.3 230.9,188.9 231.6,185.1 232.3,188.6 233.0,188.2 233.7,187.7 234.4,184.3 235.1,185.6 235.8,183.6 236.5,186.2 237.2,186.7 237.9,181.1 238.6,181.7 239.3,182.2 240.0,180.6 240.7,183.8 241.4,179.8 242.1,179.9 242.8,176.6 243.5,181.5 244.2,178.5 244.9,179.7 245.6,178.4 246.3,174.0 247.0,175.0 247.7,175.7 248.4,179.3 249.1,177.3 249.8,179.3 250.5,179.0 251.2,179.0 251.9,180.4 252.6,179.0 253.3,175.5 254.0,177.5 254.7,182.2 255.4,176.9 256.1,181.8 256.8,182.5 257.5,178.1 258.2,179.8 258.9,178.2 259.6,180.7 260.3,179.4 261.0,179.3 261.7,180.5 262.4,180.8 263.1,181.0 263.8,182.1 264.5,182.0 265.2,181.7 265.9,183.4 266.6,184.9 267.3,182.1 268.0,180.6 268.7,179.3 269.4,179.7 270.1,177.6 270.8,176.8 271.5,173.9 272.2,174.1 272.9,173.8 273.6,176.2 274.3,175.6 275.0,174.3 275.7,178.4 276.4,180.2 277.1,181.6 277.8,178.5 278.5,182.2 279.2,183.3 279.9,183.0 280.6,181.8 281.3,179.5 282.0,180.1 282.7,179.6 283.4,180.0 284.1,180.0 284.8,179.7 285.5,181.9 286.2,181.6 286.9,183.9 287.6,186.6 288.3,189.3 289.0,190.4 289.7,193.7 290.4,194.1 291.1,193.5 291.8,194.6 292.5,193.1 293.2,191.9 293.9,189.9 294.6,190.9 295.3,188.5 296.0,184.1 296.7,185.0 297.4,183.3 298.1,180.8 298.8,181.0 299.5,182.8 300.2,181.6 300.9,183.6 301.6,186.4 302.3,189.8 303.0,193.4 303.7,197.1 304.4,200.7 305.1,204.3 305.8,208.4 306.5,213.2 307.2,219.1 307.9,228.9 308.6,245.0 309.3,263.5 310.0,280.5 310.7,292.2 311.4,295.0 312.1,294.6 312.8,294.6 313.5,295.7 314.2,296.3 314.9,295.5 315.6,294.4 316.3,295.0 317.0,295.5 317.7,294.4 318.4,294.8 319.1,294.9 319.8,294.7 320.5,294.7 321.2,295.4 321.9,294.8 322.6,294.9 323.3,295.7 324.0,294.7 324.7,294.3 325.4,295.3 326.1,295.8 326.8,295.1 327.5,295.1 328.2,294.5 328.9,294.6 329.6,295.6 330.3,295.5 331.0,295.3"/>
<polyline stroke="#EDB120" points="44.0,182.4 44.7,182.8 45.4,181.9 46.1,180.8 46.8,181.5 47.5,180.5 48.2,182.2 48.9,184.2 49.6,181.2 50.3,180.9 51.0,182.7 51.7,182.4 52.4,182.0 53.1,180.2 53.8,181.6 54.5,182.8 55.2,179.4 55.9,180.8 56.6,178.5 57.3,179.4 58.0,178.5 58.7,181.0 59.4,179.3 60.1,181.7 60.8,181.5 61.5,180.9 62.2,177.1 62.9,180.3 63.6,181.0 64.3,181.2 65.0,178.6 65.7,180.2 66.4,179.4 67.1,179.6 67.8,182.6 68.5,179.5 69.2,180.7 69.9,182.2 70.6,179.8 71.3,180.5 72.0,180.9 72.7,180.8 73.4,178.7 74.1,180.7 74.8,182.7 75.5,178.1 76.2,181.9 76.9,180.7 77.6,179.4 78.3,183.6 79.0,181.6 79.7,178.5 80.4,180.5 81.1,181.2 81.8,180.0 82.5,181.3 83.2,180.1 83.9,181.2 84.6,182.4 85.3,179.0 86.0,180.4 86.7,179.3 87.4,180.1 88.1,178.0 88.8,178.9 89.5,179.4 90.2,181.1 90.9,181.4 91.6,177.4 92.3,178.2 93.0,180.4 93.7,176.1 94.4,178.5 95.1,179.0 95.8,181.0 96.5,180.0 97.2,178.3 97.9,178.2 98.6,178.3 99.3,181.0 100.0,177.8 100.7,177.9 101.4,178.8 102.1,178.0 102.8,177.8 103.5,176.2 104.2,177.9 104.9,177.1 105.6,179.6 106.3,178.7 107.0,177.6 107.7,178.6 108.4,176.9 109.1,179.0 109.8,177.3 110.5,178.1 111.2,175.1 111.9,177.6 112.6,174.3 113.3,173.6 114.0,176.3 114.7,175.3 115.4,176.9 116.1,180.1 116.8,175.1 117.5,175.4 118.2,176.6 118.9,177.0 119.6,175.8 120.3,175.7 121.0,177.1 121.7,176.7 122.4,174.1 123.1,175.6 123.8,175.7 124.5,173.9 125.2,175.9 125.9,174.0 126.6,176.8 127.3,175.5 128.0,175.3 128.7,174.1 129.4,174.8 130.1,171.7 130.8,173.0 131.5,175.3 132.2,171.2 132.9,175.9 133.6,171.6 134.3,175.5 135.0,172.9 135.7,175.4 136.4,174.2 137.1,171.5 137.8,175.8 138.5,176.0 139.2,173.5 139.9,173.1 140.6,173.2 141.3,171.8 142.0,175.0 142.7,172.3 143.4,173.0 144.1,171.7 144.8,171.9 145.5,170.8 146.2,174.7 146.9,172.4 147.6,174.1 148.3,172.5 149.0,171.2 149.7,171.8 150.4,171.3 151.1,172.1 151.8,171.4 152.5,171.5 153.2,169.7 153.9,170.5 154.6,174.4 155.3,170.6 156.0,169.9 156.7,172.1 157.4,173.7 158.1,169.1 158.8,171.0 159.5,170.3 160.2,168.4 160.9,172.3 161.6,171.1 162.3,171.2 163.0,169.8 163.7,171.7 164.4,170.0 165.1,170.6 165.8,169.0 166.5,168.8 167.2,172.8 167.9,169.8 168.6,171.1 169.3,170.5 170.0,169.8 170.7,169.6 171.4,171.4 172.1,169.9 172.8,170.1 173.5,170.3 174.2,172.2 174.9,171.3 175.6,170.8 176.3,169.3 177.0,167.9 177.7,171.6 178.4,171.6 179.1,169.8 179.8,170.9 180.5,171.3 181.2,171.3 181.9,171.4 182.6,169.2 183.3,172.3 184.0,167.9 184.7,171.2 185.4,170.6 186.1,171.2 186.8,172.7 187.5,172.0 188.2,167.8 188.9,166.9 189.6,170.8 190.3,167.9 191.0,169.4 191.7,170.7 192.4,166.6 193.1,165.7 193.8,169.4 194.5,168.9 195.2,168.3 195.9,168.6 196.6,167.0 197.3,165.8 198.0,167.8 198.7,166.4 199.4,165.2 200.1,168.5 200.8,167.5 201.5,168.1 202.2,165.8 202.9,166.3 203.6,165.6 204.3,165.8 205.0,167.5 205.7,166.0 206.4,167.8 207.1,167.9 207.8,170.7 208.5,165.3 209.2,169.1 209.9,167.7 210.6,167.9 211.3,165.7 212.0,167.4 212.7,169.4 213.4,168.2 214.1,168.4 214.8,167.8 215.5,170.1 216.2,168.2 216.9,164.7 217.6,167.1 218.3,165.1 219.0,163.0 219.7,167.3 220.4,170.3 221.1,168.2 221.8,166.2 222.5,166.5 223.2,169.8 223.9,168.2 224.6,168.0 225.3,167.8 226.0,167.9 226.7,169.1 227.4,168.7 228.1,168.1 228.8,166.0 229.5,168.5 230.2,166.5 230.9,169.4 231.6,165.5 232.3,167.3 233.0,167.5 233.7,165.4 234.4,170.3 235.1,169.8 235.8,166.8 236.5,168.7 237.2,168.1 237.9,163.3 238.6,167.9 239.3,167.5 240.0,167.7 240.7,165.9 241.4,167.2 242.1,167.4 242.8,169.6 243.5,168.3 244.2,167.8 244.9,170.3 245.6,167.0 246.3,167.3 247.0,165.0 247.7,170.5 248.4,169.5 249.1,169.5 249.8,169.1 250.5,168.2 251.2,168.3 251.9,167.5 252.6,167.4 253.3,167.7 254.0,169.9 254.7,168.3 255.4,167.2 256.1,166.2 256.8,166.0 257.5,169.6 258.2,167.5 258.9,167.6 259.6,168.1 260.3,168.7 261.0,171.2 261.7,173.7 262.4,173.8 263.1,175.0 263.8,175.7 264.5,176.1 265.2,173.8 265.9,174.2 266.6,172.3 267.3,172.5 268.0,169.2 268.7,168.9 269.4,168.4 270.1,165.2 270.8,164.0 271.5,164.2 272.2,164.2 272.9,164.4 273.6,167.7 274.3,171.6 275.0,171.8 275.7,174.1 276.4,175.0 277.1,177.3 277.8,175.6 278.5,174.8 279.2,175.9 279.9,172.0 280.6,172.1 281.3,170.6 282.0,167.7 282.7,166.6 283.4,167.1 284.1,164.8 284.8,165.3 285.5,166.2 286.2,169.9 286.9,174.1 287.6,176.5 288.3,177.6 289.0,180.6 289.7,183.4 290.4,186.0 291.1,186.6 291.8,187.1 292.5,186.2 293.2,183.7 293.9,181.4 294.6,178.6 295.3,174.9 296.0,172.0 296.7,169.9 297.4,165.5 298.1,162.2 298.8,158.4 299.5,159.2 300.2,158.5 300.9,159.4 301.6,161.1 302.3,163.5 303.0,166.5 303.7,169.9 304.4,173.4 305.1,177.1 305.8,181.3 306.5,186.3 307.2,192.1 307.9,198.8 308.6,206.4 309.3,215.0 310.0,227.4 310.7,242.6 311.4,258.2 312.1,271.8 312.8,286.3 313.5,294.4 314.2,294.4 314.9,293.8 315.6,294.2 316.3,293.9 317.0,293.8 317.7,293.9 318.4,293.5 319.1,293.4 319.8,294.3 320.5,293.9 321.2,294.1 321.9,294.4 322.6,293.3 323.3,293.7 324.0,294.1 324.7,294.2 325.4,293.8 326.1,294.4 326.8,294.1 327.5,293.5 328.2,293.6 328.9,294.3 329.6,294.2 330.3,293.2 331.0,294.5"/>
<polyline stroke="#EDB120" points="44.0,141.6 44.6,143.1 45.2,142.9 45.8,146.7 46.4,139.2 47.0,147.2 47.6,144.2 48.2,151.2 48.8,151.4 49.4,153.0 50.0,150.6 50.6,147.4 51.2,150.8 51.8,153.3 52.4,145.0 53.0,149.8 53.6,147.3 54.2,152.9 54.8,144.2 55.4,146.2 56.0,148.7 56.6,148.3 57.2,141.0 57.8,148.6 58.4,146.8 59.0,146.3 59.6,146.6 60.2,148.0 60.8,140.2 61.4,153.0 62.0,143.8 62.6,138.6 63.2,146.8 63.8,152.6 64.4,145.1 65.0,153.0 65.6,153.0 66.2,143.8 66.8,137.7 67.4,142.4 68.0,151.6 68.6,144.0 69.2,141.4 69.8,142.1 70.4,147.2 71.0,147.1 71.6,150.6 72.2,151.0 72.8,143.8 73.4,146.8 74.0,143.1 74.6,147.7 75.2,143.1 75.8,142.9 76.4,155.6 77.0,147.7 77.6,150.1 78.2,157.3 78.8,150.7 79.4,147.3 80.0,148.0 80.6,145.0 81.2,152.0 81.8,146.6 82.4,154.6 83.0,146.7 83.6,146.7 84.2,146.5 84.8,150.5 85.4,148.9 86.0,153.4 86.6,146.1 87.2,149.4 87.8,155.7 88.4,147.5 89.0,150.5 89.6,154.5 90.2,150.7 90.8,146.2 91.4,140.9 92.0,157.9 92.6,150.5 93.2,153.7 93.8,147.2 94.4,156.0 95.0,151.2 95.6,149.4 96.2,145.9 96.8,150.8 97.4,147.6 98.0,148.7 98.6,143.5 99.2,147.8 99.8,150.4 100.4,145.1 101.0,150.2 101.6,152.5 102.2,148.8 102.8,169.5 103.4,147.8 104.0,153.7 104.6,144.4 105.2,149.1 105.8,148.7 106.4,150.8 107.0,150.0 107.6,146.1 108.2,158.1 108.8,151.0 109.4,145.2 110.0,146.9 110.6,150.6 111.2,152.5 111.8,145.1 112.4,152.8 113.0,144.8 113.6,147.0 114.2,153.2 114.8,156.3 115.4,149.5 116.0,148.6 116.6,154.5 117.2,145.5 117.8,150.6 118.4,150.3 119.0,153.2 119.6,150.4 120.2,148.2 120.8,151.5 121.4,144.8 122.0,152.1 122.6,146.3 123.2,145.3 123.8,147.3 124.4,148.8 125.0,151.3 125.6,147.7 126.2,151.2 126.8,152.1 127.4,147.9 128.0,144.5 128.6,151.7 129.2,149.2 129.8,140.1 130.4,144.3 131.0,148.6 131.6,142.8 132.2,145.4 132.8,141.4 133.4,149.4 134.0,148.8 134.6,148.5 135.2,153.3 135.8,146.4 136.4,146.6 137.0,155.3 137.6,142.6 138.2,150.3 138.8,142.5 139.4,148.4 140.0,155.5 140.6,148.4 141.2,144.4 141.8,156.4 142.4,145.2 143.0,146.5 143.6,148.4 144.2,142.1 144.8,151.4 145.4,153.3 146.0,150.0 146.6,148.4 147.2,146.6 147.8,150.5 148.4,135.1 149.0,146.6 149.6,148.1 150.2,139.6 150.8,148.7 151.4,146.6 152.0,147.0 152.6,147.6 153.2,149.4 153.8,149.0 154.4,143.4 155.0,146.9 155.6,146.7 156.2,147.7 156.8,145.3 157.4,151.4 158.0,152.7 158.6,153.6 159.2,155.2 159.8,153.7 160.4,146.4 161.0,145.9 161.6,146.8 162.2,150.6 162.8,148.1 163.4,152.4 164.0,155.1 164.6,147.3 165.2,152.8 165.8,147.7 166.4,144.4 167.0,144.6 167.6,148.3 168.2,142.4 168.8,151.6 169.4,155.6 170.0,145.5 170.6,148.8 171.2,156.0 171.8,132.2 172.4,151.1 173.0,149.5 173.6,154.4 174.2,151.9 174.8,146.7 175.4,141.7 176.0,140.8 176.6,153.6 177.2,150.2 177.8,156.9 178.4,153.4 179.0,146.8 179.6,152.8 180.2,156.4 180.8,148.5 181.4,150.1 182.0,158.8 182.6,145.7 183.2,148.3 183.8,156.5 184.4,153.4 185.0,148.4 185.6,147.3 186.2,154.7 186.8,157.7 187.4,156.4 188.0,155.0 188.6,159.2 189.2,154.9 189.8,150.8 190.4,161.9 191.0,149.8 191.6,154.4 192.2,155.1 192.8,161.3 193.4,153.5 194.0,155.9 194.6,150.8 195.2,159.5 195.8,160.4 196.4,161.7 197.0,156.2 197.6,161.1 198.2,157.2 198.8,159.0 199.4,160.8 200.0,166.3 200.6,160.0 201.2,162.6 201.8,158.9 202.4,160.2 203.0,159.8 203.6,162.0 204.2,165.6 204.8,158.6 205.4,165.5 206.0,159.2 206.6,164.0 207.2,160.7 207.8,161.6 208.4,161.3 209.0,166.9 209.6,163.7 210.2,166.8 210.8,161.3 211.4,161.8 212.0,168.9 212.6,156.5 213.2,159.4 213.8,162.0 214.4,169.6 215.0,160.4 215.6,165.7 216.2,168.7 216.8,161.8 217.4,162.0 218.0,169.1 218.6,160.6 219.2,158.7 219.8,165.9 220.4,160.7 221.0,167.6 221.6,164.8 222.2,156.0 222.8,163.8 223.4,162.7 224.0,160.2 224.6,166.9 225.2,156.0 225.8,158.0 226.4,160.9 227.0,165.9 227.6,157.1 228.2,160.6 228.8,160.5 229.4,157.6 230.0,162.0 230.6,159.2 231.2,162.0 231.8,165.0 232.4,160.6 233.0,160.9 233.6,160.6 234.2,161.3 234.8,158.7 235.4,160.2 236.0,165.3 236.6,161.6 237.2,177.5 237.8,162.0 238.4,166.9 239.0,159.5 239.6,164.3 240.2,163.3 240.8,165.2 241.4,170.7 242.0,165.0 242.6,161.1 243.2,166.3 243.8,162.2 244.4,165.4 245.0,172.0 245.6,169.6 246.2,170.2 246.8,168.1 247.4,165.9 248.0,160.1 248.6,164.1 249.2,163.7 249.8,168.2 250.4,169.3 251.0,167.2 251.6,162.2 252.2,172.1 252.8,170.2 253.4,163.9 254.0,165.3 254.6,166.8 255.2,164.7 255.8,163.8 256.4,165.9 257.0,164.1 257.6,164.8 258.2,162.1 258.8,162.7 259.4,167.9 260.0,164.6 260.6,168.4 261.2,169.4 261.8,170.4 262.4,170.2 263.0,173.3 263.6,173.0 264.2,172.3 264.8,170.6 265.4,171.5 266.0,170.1 266.6,168.0 267.2,168.7 267.8,167.4 268.4,166.2 269.0,163.8 269.6,161.9 270.2,162.6 270.8,161.2 271.4,162.7 272.0,160.4 272.6,159.2 273.2,163.0 273.8,166.6 274.4,166.0 275.0,167.5 275.6,169.0 276.2,173.9 276.8,172.2 277.4,172.4 278.0,172.8 278.6,169.8 279.2,170.2 279.8,167.6 280.4,167.6 281.0,166.9 281.6,166.0 282.2,163.0 282.8,163.6 283.4,161.4 284.0,159.6 284.6,163.0 285.2,163.0 285.8,164.9 286.4,163.1 287.0,168.7 287.6,170.7 288.2,172.6 288.8,175.3 289.4,174.7 290.0,178.7 290.6,177.0 291.2,176.4 291.8,171.5 292.4,171.0 293.0,173.9 293.6,170.7 294.2,169.4 294.8,165.5 295.4,163.7 296.0,162.4 296.6,158.5 297.2,159.2 297.8,154.2 298.4,154.4 299.0,152.5 299.6,152.5 300.2,151.4 300.8,151.6 301.4,152.4 302.0,153.9 302.6,155.9 303.2,158.3 303.8,161.1 304.4,164.1 305.0,167.3 305.6,170.6 306.2,174.9 306.8,180.5 307.4,187.0 308.0,194.0 308.6,201.1 309.2,208.0 309.8,214.1 310.4,219.5 311.0,224.8 311.6,229.9 312.2,234.9 312.8,239.6 313.4,244.1 314.0,248.5 314.6,253.3 315.2,257.3 315.8,259.1 316.4,259.7 317.0,259.8 317.6,259.8 318.2,260.6 318.8,259.8 319.4,262.2 320.0,260.7 320.6,260.3 321.2,259.9 321.8,260.6 322.4,261.1 323.0,260.5 323.6,259.5 324.2,260.1 324.8,259.0 325.4,261.1 326.0,260.5 326.6,260.1 327.2,260.0 327.8,259.3 328.4,259.4 329.0,260.0 329.6,259.1 330.2,259.3 330.8,258.8"/>
<polyline stroke="#0072BD" points="44.0,102.4 44.6,106.3 45.2,98.8 45.8,107.7 46.4,109.5 47.0,103.1 47.6,106.5 48.2,118.0 48.8,103.0 49.4,101.1 50.0,96.4 50.6,109.7 51.2,103.9 51.8,113.8 52.4,107.1 53.0,104.9 53.6,101.1 54.2,109.0 54.8,101.5 55.4,109.5 56.0,101.8 56.6,104.0 57.2,97.2 57.8,112.2 58.4,102.6 59.0,101.4 59.6,106.0 60.2,99.3 60.8,105.7 61.4,98.1 62.0,104.7 62.6,98.4 63.2,95.3 63.8,100.1 64.4,96.6 65.0,104.5 65.6,102.3 66.2,104.2 66.8,102.5 67.4,100.7 68.0,102.2 68.6,106.1 69.2,101.3 69.8,99.0 70.4,98.1 71.0,101.0 71.6,98.9 72.2,109.1 72.8,97.2 73.4,97.5 74.0,100.5 74.6,104.2 75.2,100.6 75.8,97.9 76.4,98.4 77.0,100.2 77.6,105.3 78.2,97.7 78.8,101.1 79.4,99.0 80.0,102.7 80.6,102.9 81.2,95.7 81.8,110.7 82.4,102.1 83.0,99.3 83.6,97.8 84.2,100.3 84.8,101.4 85.4,103.6 86.0,101.3 86.6,103.2 87.2,95.0 87.8,98.4 88.4,97.4 89.0,102.0 89.6,103.1 90.2,95.6 90.8,100.7 91.4,104.2 92.0,105.0 92.6,97.1 93.2,103.7 93.8,102.8 94.4,99.8 95.0,109.2 95.6,97.2 96.2,100.5 96.8,103.4 97.4,102.6 98.0,101.1 98.6,107.1 99.2,107.4 99.8,105.4 100.4,105.8 101.0,101.7 101.6,97.4 102.2,110.5 102.8,98.3 103.4,110.7 104.0,101.6 104.6,103.0 105.2,101.5 105.8,105.9 106.4,100.2 107.0,109.4 107.6,104.4 108.2,103.0 108.8,100.1 109.4,103.5 110.0,102.4 110.6,109.8 111.2,106.1 111.8,96.4 112.4,108.5 113.0,93.3 113.6,108.6 114.2,95.2 114.8,102.6 115.4,105.8 116.0,102.6 116.6,98.4 117.2,107.5 117.8,95.8 118.4,97.1 119.0,108.2 119.6,99.5 120.2,103.8 120.8,106.1 121.4,102.5 122.0,104.1 122.6,103.5 123.2,103.9 123.8,107.7 124.4,106.8 125.0,104.4 125.6,106.8 126.2,101.1 126.8,100.3 127.4,99.4 128.0,106.4 128.6,109.7 129.2,103.7 129.8,95.7 130.4,101.5 131.0,105.4 131.6,104.8 132.2,104.0 132.8,107.6 133.4,107.4 134.0,98.6 134.6,105.6 135.2,101.1 135.8,104.9 136.4,109.0 137.0,111.3 137.6,107.0 138.2,102.3 138.8,103.0 139.4,106.5 140.0,100.7 140.6,104.3 141.2,107.0 141.8,108.3 142.4,103.6 143.0,106.3 143.6,110.2 144.2,106.2 144.8,98.4 145.4,105.9 146.0,106.1 146.6,103.6 147.2,105.4 147.8,99.6 148.4,110.2 149.0,107.1 149.6,103.4 150.2,106.4 150.8,106.1 151.4,102.2 152.0,95.2 152.6,94.6 153.2,113.6 153.8,101.4 154.4,104.7 155.0,108.1 155.6,104.5 156.2,110.6 156.8,102.3 157.4,108.2 158.0,97.9 158.6,108.9 159.2,108.8 159.8,107.6 160.4,107.4 161.0,107.3 161.6,109.6 162.2,110.1 162.8,102.7 163.4,110.5 164.0,102.7 164.6,107.1 165.2,105.5 165.8,108.3 166.4,105.2 167.0,108.1 167.6,104.7 168.2,102.8 168.8,110.7 169.4,108.8 170.0,108.6 170.6,110.3 171.2,102.5 171.8,110.2 172.4,102.5 173.0,108.1 173.6,105.9 174.2,107.6 174.8,109.3 175.4,106.6 176.0,102.9 176.6,110.0 177.2,111.0 177.8,109.0 178.4,110.3 179.0,99.3 179.6,106.4 180.2,105.6 180.8,98.4 181.4,106.3 182.0,105.8 182.6,99.9 183.2,102.4 183.8,105.9 184.4,107.8 185.0,108.1 185.6,101.0 186.2,101.0 186.8,103.1 187.4,104.8 188.0,102.6 188.6,104.0 189.2,107.4 189.8,107.2 190.4,105.0 191.0,99.8 191.6,102.2 192.2,106.1 192.8,107.0 193.4,107.5 194.0,99.0 194.6,101.0 195.2,97.8 195.8,90.7 196.4,97.6 197.0,94.6 197.6,106.6 198.2,102.6 198.8,97.9 199.4,100.3 200.0,101.4 200.6,106.3 201.2,102.1 201.8,104.8 202.4,100.4 203.0,103.4 203.6,103.7 204.2,101.5 204.8,97.8 205.4,101.8 206.0,95.9 206.6,102.9 207.2,96.2 207.8,94.6 208.4,104.6 209.0,95.7 209.6,97.9 210.2,93.1 210.8,94.5 211.4,95.9 212.0,93.3 212.6,102.0 213.2,94.4 213.8,92.3 214.4,101.5 215.0,99.9 215.6,88.1 216.2,94.9 216.8,101.0 217.4,94.1 218.0,96.0 218.6,96.1 219.2,88.3 219.8,93.6 220.4,100.0 221.0,102.6 221.6,96.6 222.2,96.4 222.8,98.9 223.4,97.3 224.0,98.5 224.6,93.0 225.2,96.4 225.8,98.1 226.4,98.3 227.0,89.7 227.6,98.7 228.2,95.8 228.8,95.7 229.4,87.8 230.0,94.1 230.6,86.9 231.2,82.1 231.8,91.2 232.4,89.7 233.0,88.8 233.6,88.3 234.2,86.8 234.8,90.6 235.4,89.3 236.0,92.7 236.6,97.0 237.2,91.3 237.8,92.9 238.4,98.8 239.0,89.6 239.6,93.3 240.2,97.0 240.8,91.1 241.4,101.7 242.0,104.3 242.6,93.0 243.2,94.1 243.8,99.8 244.4,100.3 245.0,87.3 245.6,94.4 246.2,90.2 246.8,82.6 247.4,87.2 248.0,86.0 248.6,88.5 249.2,88.2 249.8,87.0 250.4,87.7 251.0,87.7 251.6,90.5 252.2,92.4 252.8,92.6 253.4,85.6 254.0,86.2 254.6,86.9 255.2,95.4 255.8,92.0 256.4,87.5 257.0,86.3 257.6,87.3 258.2,91.8 258.8,91.1 259.4,93.4 260.0,96.2 260.6,95.3 261.2,98.0 261.8,96.3 262.4,100.2 263.0,101.8 263.6,102.7 264.2,108.9 264.8,110.6 265.4,113.0 266.0,116.2 266.6,119.7 267.2,117.2 267.8,118.1 268.4,114.4 269.0,112.7 269.6,107.9 270.2,104.6 270.8,102.0 271.4,98.0 272.0,96.5 272.6,95.9 273.2,96.0 273.8,97.0 274.4,98.7 275.0,101.9 275.6,105.4 276.2,109.1 276.8,112.0 277.4,111.3 278.0,115.5 278.6,117.8 279.2,120.3 279.8,120.8 280.4,117.3 281.0,118.1 281.6,113.2 282.2,111.8 282.8,107.9 283.4,104.9 284.0,104.6 284.6,99.1 285.2,97.2 285.8,97.2 286.4,98.9 287.0,96.9 287.6,103.3 288.2,102.5 288.8,105.3 289.4,110.6 290.0,115.3 290.6,121.9 291.2,123.1 291.8,123.9 292.4,125.9 293.0,124.9 293.6,125.6 294.2,123.6 294.8,119.6 295.4,117.7 296.0,108.9 296.6,104.7 297.2,98.6 297.8,94.7 298.4,91.0 299.0,94.6 299.6,93.9 300.2,97.8 300.8,101.1 301.4,106.9 302.0,114.9 302.6,124.1 303.2,133.2 303.8,141.2 304.4,148.0 305.0,154.3 305.6,160.9 306.2,168.4 306.8,177.7 307.4,190.6 308.0,206.6 308.6,224.2 309.2,241.8 309.8,259.2 310.4,279.4 311.0,290.0 311.6,291.0 312.2,291.7 312.8,292.1 313.4,291.9 314.0,291.8 314.6,293.3 315.2,292.6 315.8,291.5 316.4,293.2 317.0,291.9 317.6,293.3 318.2,293.2 318.8,292.9 319.4,292.5 320.0,292.1 320.6,292.9 321.2,292.3 321.8,292.9 322.4,292.4 323.0,291.9 323.6,292.2 324.2,292.5 324.8,292.3 325.4,292.6 326.0,292.1 326.6,293.2 327.2,292.3 327.8,292.7 328.4,291.8 329.0,292.8 329.6,293.1 330.2,292.7 330.8,292.4"/>
<polyline stroke="#D95319" points="44.0,77.6 44.6,78.6 45.2,78.2 45.8,81.3 46.4,79.5 47.0,80.5 47.6,82.5 48.2,82.4 48.8,81.0 49.4,78.0 50.0,76.9 50.6,76.5 51.2,77.8 51.8,78.5 52.4,75.5 53.0,74.8 53.6,79.1 54.2,72.2 54.8,77.2 55.4,78.9 56.0,74.4 56.6,73.8 57.2,74.7 57.8,78.9 58.4,76.3 59.0,70.7 59.6,75.0 60.2,79.3 60.8,79.0 61.4,77.7 62.0,74.9 62.6,69.7 63.2,75.8 63.8,74.5 64.4,75.1 65.0,79.5 65.6,75.1 66.2,75.2 66.8,76.0 67.4,73.2 68.0,71.7 68.6,71.3 69.2,75.8 69.8,74.7 70.4,71.5 71.0,76.4 71.6,73.2 72.2,68.3 72.8,74.1 73.4,71.7 74.0,67.8 74.6,73.4 75.2,70.5 75.8,70.2 76.4,73.1 77.0,64.4 77.6,67.1 78.2,69.6 78.8,71.6 79.4,68.6 80.0,67.5 80.6,67.2 81.2,70.0 81.8,72.3 82.4,65.6 83.0,63.5 83.6,68.9 84.2,68.6 84.8,66.8 85.4,71.4 86.0,71.9 86.6,67.6 87.2,68.1 87.8,70.8 88.4,67.6 89.0,64.5 89.6,68.5 90.2,65.8 90.8,69.5 91.4,66.8 92.0,67.7 92.6,69.7 93.2,67.6 93.8,65.9 94.4,64.7 95.0,73.0 95.6,71.0 96.2,62.8 96.8,64.0 97.4,69.0 98.0,65.2 98.6,67.0 99.2,69.3 99.8,67.0 100.4,66.0 101.0,64.8 101.6,65.8 102.2,67.1 102.8,71.2 103.4,68.9 104.0,64.9 104.6,68.2 105.2,65.6 105.8,60.6 106.4,64.8 107.0,68.1 107.6,63.2 108.2,67.9 108.8,64.1 109.4,65.2 110.0,61.5 110.6,71.8 111.2,66.9 111.8,68.8 112.4,64.5 113.0,61.6 113.6,70.1 114.2,64.3 114.8,71.9 115.4,66.5 116.0,72.3 116.6,65.2 117.2,62.3 117.8,70.1 118.4,67.9 119.0,68.3 119.6,71.8 120.2,66.0 120.8,65.0 121.4,65.6 122.0,64.2 122.6,64.1 123.2,65.9 123.8,67.1 124.4,68.9 125.0,66.8 125.6,70.3 126.2,73.2 126.8,70.3 127.4,72.4 128.0,68.3 128.6,72.1 129.2,72.7 129.8,69.2 130.4,66.3 131.0,70.4 131.6,70.8 132.2,75.1 132.8,69.3 133.4,75.4 134.0,62.8 134.6,69.1 135.2,68.3 135.8,68.5 136.4,67.9 137.0,69.2 137.6,74.2 138.2,68.6 138.8,72.5 139.4,68.5 140.0,69.0 140.6,61.3 141.2,68.8 141.8,70.3 142.4,64.9 143.0,66.4 143.6,65.6 144.2,74.7 144.8,65.1 145.4,65.9 146.0,59.7 146.6,63.1 147.2,68.5 147.8,63.9 148.4,59.3 149.0,66.8 149.6,68.0 150.2,68.4 150.8,68.6 151.4,65.6 152.0,75.9 152.6,65.6 153.2,68.6 153.8,63.3 154.4,65.2 155.0,62.3 155.6,67.6 156.2,65.6 156.8,63.7 157.4,60.6 158.0,68.4 158.6,69.1 159.2,69.2 159.8,66.3 160.4,68.7 161.0,69.4 161.6,68.1 162.2,71.0 162.8,66.2 163.4,67.4 164.0,62.2 164.6,73.3 165.2,64.7 165.8,68.1 166.4,69.1 167.0,64.8 167.6,67.2 168.2,69.6 168.8,67.3 169.4,66.7 170.0,66.7 170.6,65.6 171.2,67.3 171.8,68.9 172.4,69.2 173.0,71.1 173.6,67.8 174.2,66.0 174.8,70.0 175.4,68.4 176.0,70.2 176.6,67.6 177.2,68.5 177.8,67.9 178.4,68.7 179.0,63.3 179.6,65.9 180.2,66.6 180.8,71.2 181.4,65.6 182.0,67.2 182.6,65.3 183.2,59.5 183.8,69.6 184.4,67.9 185.0,69.7 185.6,61.7 186.2,66.8 186.8,66.5 187.4,61.2 188.0,67.5 188.6,64.2 189.2,67.7 189.8,61.1 190.4,63.6 191.0,64.1 191.6,61.7 192.2,66.6 192.8,70.5 193.4,66.5 194.0,68.5 194.6,71.2 195.2,68.4 195.8,65.7 196.4,61.0 197.0,68.1 197.6,66.1 198.2,65.8 198.8,69.5 199.4,69.1 200.0,62.7 200.6,68.4 201.2,66.8 201.8,70.5 202.4,67.9 203.0,71.0 203.6,66.2 204.2,67.1 204.8,66.8 205.4,68.0 206.0,67.9 206.6,72.3 207.2,65.7 207.8,69.1 208.4,65.3 209.0,64.5 209.6,67.2 210.2,64.5 210.8,69.7 211.4,67.0 212.0,67.6 212.6,70.7 213.2,74.2 213.8,67.8 214.4,63.5 215.0,68.3 215.6,69.6 216.2,73.1 216.8,69.5 217.4,67.0 218.0,72.6 218.6,73.1 219.2,69.2 219.8,70.7 220.4,70.9 221.0,77.8 221.6,68.0 222.2,68.6 222.8,69.5 223.4,72.1 224.0,68.9 224.6,71.4 225.2,72.6 225.8,75.9 226.4,69.4 227.0,68.9 227.6,68.9 228.2,64.2 228.8,66.3 229.4,69.9 230.0,68.9 230.6,74.9 231.2,69.2 231.8,66.2 232.4,67.1 233.0,59.9 233.6,59.8 234.2,59.0 234.8,60.5 235.4,67.4 236.0,59.7 236.6,58.3 237.2,60.2 237.8,62.4 238.4,61.2 239.0,62.2 239.6,55.7 240.2,56.6 240.8,58.5 241.4,59.4 242.0,63.2 242.6,55.1 243.2,60.9 243.8,58.2 244.4,60.8 245.0,57.0 245.6,54.8 246.2,62.8 246.8,60.1 247.4,53.4 248.0,61.6 248.6,56.5 249.2,59.3 249.8,59.7 250.4,55.7 251.0,63.3 251.6,58.3 252.2,64.9 252.8,61.1 253.4,60.7 254.0,59.1 254.6,63.5 255.2,53.3 255.8,53.1 256.4,52.5 257.0,57.4 257.6,56.5 258.2,53.1 258.8,53.5 259.4,52.0 260.0,57.7 260.6,57.4 261.2,60.0 261.8,61.6 262.4,64.7 263.0,64.9 263.6,66.1 264.2,66.0 264.8,64.9 265.4,64.3 266.0,64.9 266.6,64.2 267.2,63.9 267.8,64.1 268.4,59.9 269.0,58.4 269.6,59.4 270.2,60.7 270.8,58.2 271.4,55.2 272.0,59.2 272.6,57.6 273.2,55.4 273.8,57.1 274.4,59.7 275.0,60.6 275.6,63.1 276.2,66.2 276.8,67.9 277.4,72.0 278.0,72.2 278.6,76.5 279.2,75.7 279.8,76.4 280.4,76.4 281.0,79.1 281.6,81.2 282.2,82.4 282.8,75.1 283.4,76.6 284.0,71.9 284.6,70.6 285.2,66.3 285.8,66.0 286.4,68.2 287.0,66.9 287.6,67.8 288.2,71.1 288.8,73.5 289.4,77.1 290.0,79.8 290.6,85.5 291.2,86.8 291.8,90.3 292.4,90.3 293.0,88.3 293.6,88.9 294.2,82.3 294.8,79.5 295.4,73.1 296.0,65.4 296.6,62.4 297.2,59.5 297.8,59.2 298.4,58.0 299.0,60.1 299.6,59.8 300.2,65.2 300.8,73.3 301.4,81.8 302.0,88.4 302.6,94.3 303.2,100.4 303.8,107.4 304.4,114.8 305.0,122.8 305.6,131.7 306.2,141.8 306.8,154.3 307.4,168.4 308.0,182.2 308.6,195.0 309.2,208.0 309.8,222.7 310.4,243.8 311.0,267.3 311.6,285.2 312.2,290.5 312.8,291.6 313.4,292.5 314.0,292.4 314.6,294.0 315.2,293.3 315.8,292.6 316.4,293.6 317.0,293.7 317.6,293.1 318.2,293.9 318.8,292.8 319.4,294.0 320.0,293.7 320.6,294.2 321.2,293.3 321.8,293.9 322.4,293.3 323.0,293.8 323.6,293.6 324.2,293.8 324.8,293.0 325.4,293.7 326.0,293.7 326.6,294.1 327.2,293.4 327.8,293.4 328.4,293.8 329.0,293.7 329.6,292.5 330.2,293.4 330.8,293.9"/>
</g>
<rect x="44.1" y="48.9" width="287.4" height="247.2" fill="none" stroke="#1c1c1c" stroke-width="1.5"/>
<path d="M47.4 296.1v-4M91.13 296.1v-4M134.86 296.1v-4M178.59 296.1v-4M222.32 296.1v-4M266.05 296.1v-4M309.78 296.1v-4M65.9 48.9v4M109.7 48.9v4M153.5 48.9v4M197.3 48.9v4M241.1 48.9v4M284.9 48.9v4M44.1 254.9h4M331.5 254.9h-4M44.1 213.7h4M331.5 213.7h-4M44.1 172.5h4M331.5 172.5h-4M44.1 131.3h4M331.5 131.3h-4M44.1 90.1h4M331.5 90.1h-4" stroke="#1c1c1c" stroke-width="1.5" fill="none"/>
<text x="43" y="262" font-size="16" text-anchor="end" >50</text>
<text x="43" y="220.8" font-size="16" text-anchor="end" >100</text>
<text x="43" y="179.6" font-size="16" text-anchor="end" >150</text>
<text x="43" y="138.4" font-size="16" text-anchor="end" >200</text>
<text x="43" y="97.2" font-size="16" text-anchor="end" >250</text>
<text x="43" y="56" font-size="16" text-anchor="end" >300</text>
<text x="46.3" y="311.4" font-size="16" text-anchor="middle" >6000</text>
<text x="133.76" y="311.4" font-size="16" text-anchor="middle" >4000</text>
<text x="221.22" y="311.4" font-size="16" text-anchor="middle" >2000</text>
<text x="309.78" y="311.4" font-size="16" text-anchor="middle" >0</text>
<text x="71.9" y="328.1" font-size="16" text-anchor="start" >Distance to Center of Target (nm)</text>
<text transform="translate(12 46.4) rotate(-90)" font-size="16" text-anchor="end">Integrated PSF Intensity (arb. units)</text>
<text x="33.4" y="19.6" font-size="16" text-anchor="start" >Small Stokes Shift 200 nm Diameter Beads</text>
<text x="21.3" y="38.5" font-size="16" text-anchor="start" >Excitation: 470 ± 10 nm Detection: 515 ± 15 nm</text>
<text x="3.6" y="19.4" font-size="26" text-anchor="start" >a</text>
<polyline fill="none" stroke="#000" stroke-width="1.6" stroke-linejoin="round" points="391.0,108.0 391.5,111.2 392.0,102.0 392.5,111.7 393.0,106.9 393.5,104.8 394.0,104.9 394.5,104.1 395.0,106.6 395.5,109.6 396.0,108.9 396.5,109.1 397.0,94.5 397.5,103.2 398.0,112.3 398.5,111.2 399.0,115.2 399.5,113.2 400.0,107.6 400.5,114.6 401.0,113.3 401.5,112.5 402.0,109.8 402.5,112.3 403.0,112.0 403.5,125.0 404.0,113.1 404.5,117.3 405.0,110.8 405.5,114.3 406.0,114.5 406.5,110.7 407.0,115.6 407.5,116.0 408.0,114.6 408.5,112.7 409.0,114.1 409.5,111.0 410.0,113.4 410.5,110.9 411.0,113.0 411.5,115.1 412.0,111.2 412.5,114.5 413.0,109.1 413.5,111.2 414.0,108.2 414.5,111.7 415.0,112.2 415.5,111.4 416.0,111.3 416.5,115.8 417.0,116.0 417.5,108.6 418.0,115.3 418.5,107.2 419.0,109.9 419.5,111.5 420.0,112.1 420.5,108.5 421.0,108.9 421.5,110.6 422.0,107.9 422.5,107.4 423.0,110.5 423.5,110.8 424.0,107.6 424.5,107.5 425.0,107.3 425.5,106.1 426.0,106.1 426.5,104.7 427.0,109.5 427.5,107.6 428.0,107.6 428.5,108.7 429.0,109.7 429.5,112.3 430.0,107.7 430.5,107.4 431.0,109.1 431.5,106.0 432.0,111.7 432.5,110.3 433.0,109.2 433.5,106.4 434.0,108.3 434.5,108.6 435.0,106.5 435.5,103.9 436.0,99.5 436.5,106.6 437.0,102.8 437.5,101.3 438.0,93.4 438.5,104.4 439.0,99.4 439.5,103.0 440.0,102.5 440.5,105.9 441.0,97.7 441.5,101.9 442.0,102.5 442.5,106.7 443.0,99.6 443.5,94.2 444.0,98.4 444.5,102.8 445.0,104.1 445.5,106.5 446.0,102.6 446.5,99.0 447.0,103.5 447.5,100.7 448.0,100.0 448.5,100.4 449.0,104.1 449.5,97.4 450.0,96.9 450.5,99.3 451.0,99.1 451.5,96.8 452.0,96.4 452.5,99.8 453.0,102.2 453.5,100.3 454.0,100.0 454.5,101.4 455.0,92.1 455.5,93.2 456.0,95.2 456.5,93.5 457.0,82.8 457.5,96.6 458.0,92.6 458.5,94.7 459.0,90.1 459.5,93.0 460.0,99.5 460.5,94.2 461.0,96.7 461.5,97.9 462.0,94.6 462.5,97.8 463.0,96.9 463.5,98.4 464.0,94.8 464.5,92.7 465.0,94.0 465.5,95.3 466.0,98.4 466.5,96.3 467.0,95.7 467.5,96.1 468.0,99.5 468.5,94.6 469.0,100.2 469.5,92.3 470.0,93.8 470.5,97.5 471.0,96.3 471.5,92.1 472.0,93.9 472.5,91.9 473.0,96.0 473.5,94.9 474.0,91.1 474.5,94.0 475.0,91.7 475.5,92.4 476.0,92.7 476.5,90.8 477.0,93.4 477.5,93.4 478.0,93.2 478.5,95.0 479.0,91.0 479.5,87.5 480.0,90.2 480.5,92.0 481.0,100.0 481.5,92.9 482.0,93.5 482.5,90.8 483.0,90.7 483.5,88.2 484.0,93.8 484.5,90.1 485.0,87.7 485.5,87.6 486.0,89.5 486.5,94.9 487.0,92.7 487.5,85.7 488.0,90.0 488.5,91.1 489.0,92.0 489.5,91.2 490.0,88.4 490.5,91.3 491.0,88.6 491.5,83.8 492.0,88.0 492.5,88.0 493.0,92.6 493.5,92.8 494.0,86.9 494.5,90.2 495.0,89.9 495.5,85.6 496.0,83.8 496.5,89.2 497.0,89.8 497.5,87.6 498.0,81.6 498.5,89.0 499.0,87.4 499.5,86.4 500.0,87.9 500.5,85.5 501.0,90.1 501.5,88.5 502.0,86.8 502.5,89.0 503.0,88.0 503.5,83.8 504.0,87.5 504.5,86.5 505.0,82.9 505.5,85.8 506.0,88.8 506.5,85.8 507.0,91.4 507.5,92.1 508.0,86.5 508.5,88.8 509.0,92.8 509.5,86.2 510.0,84.5 510.5,85.8 511.0,83.1 511.5,83.1 512.0,87.4 512.5,85.6 513.0,87.4 513.5,88.1 514.0,84.5 514.5,86.1 515.0,85.9 515.5,84.7 516.0,84.3 516.5,87.5 517.0,86.2 517.5,87.6 518.0,89.5 518.5,76.2 519.0,83.7 519.5,84.5 520.0,86.2 520.5,98.0 521.0,89.7 521.5,84.4 522.0,86.0 522.5,88.0 523.0,90.8 523.5,91.3 524.0,84.7 524.5,86.9 525.0,85.3 525.5,90.0 526.0,88.8 526.5,86.6 527.0,85.9 527.5,88.4 528.0,90.3 528.5,85.3 529.0,86.5 529.5,87.7 530.0,87.4 530.5,88.2 531.0,84.4 531.5,85.4 532.0,81.1 532.5,87.1 533.0,89.9 533.5,79.4 534.0,85.0 534.5,89.2 535.0,86.3 535.5,73.7 536.0,89.9 536.5,82.6 537.0,90.4 537.5,85.0 538.0,84.7 538.5,86.7 539.0,86.6 539.5,88.4 540.0,88.2 540.5,86.4 541.0,90.6 541.5,89.0 542.0,87.8 542.5,87.5 543.0,86.9 543.5,87.0 544.0,89.1 544.5,88.7 545.0,87.5 545.5,90.3 546.0,86.8 546.5,88.8 547.0,90.0 547.5,84.6 548.0,87.0 548.5,92.5 549.0,85.2 549.5,91.2 550.0,85.0 550.5,89.2 551.0,85.1 551.5,86.5 552.0,87.2 552.5,86.8 553.0,91.2 553.5,90.7 554.0,90.9 554.5,89.0 555.0,93.1 555.5,91.4 556.0,89.5 556.5,85.7 557.0,90.5 557.5,90.4 558.0,88.8 558.5,90.4 559.0,90.4 559.5,87.3 560.0,89.5 560.5,88.7 561.0,88.4 561.5,86.4 562.0,85.8 562.5,87.2 563.0,90.7 563.5,92.9 564.0,85.2 564.5,83.1 565.0,84.9 565.5,83.4 566.0,84.5 566.5,86.7 567.0,82.9 567.5,87.2 568.0,87.7 568.5,89.7 569.0,90.6 569.5,88.3 570.0,91.8 570.5,84.1 571.0,86.3 571.5,86.0 572.0,86.7 572.5,88.4 573.0,84.6 573.5,90.3 574.0,89.1 574.5,86.5 575.0,86.8 575.5,82.8 576.0,78.6 576.5,85.3 577.0,86.4 577.5,90.6 578.0,82.4 578.5,84.2 579.0,90.3 579.5,87.3 580.0,86.8 580.5,84.1 581.0,86.9 581.5,88.2 582.0,90.3 582.5,83.1 583.0,84.8 583.5,81.4 584.0,82.8 584.5,85.1 585.0,81.7 585.5,82.4 586.0,86.9 586.5,82.3 587.0,84.8 587.5,81.7 588.0,79.3 588.5,82.4 589.0,81.4 589.5,76.7 590.0,78.9 590.5,81.1 591.0,86.3 591.5,80.6 592.0,82.1 592.5,83.9 593.0,82.9 593.5,81.1 594.0,92.0 594.5,85.7 595.0,75.2 595.5,84.6 596.0,83.3 596.5,84.5 597.0,81.9 597.5,83.9 598.0,86.8 598.5,85.9 599.0,85.7 599.5,83.1 600.0,82.3 600.5,81.9 601.0,76.0 601.5,93.5 602.0,81.1 602.5,82.9 603.0,83.7 603.5,85.6 604.0,79.3 604.5,86.7 605.0,83.2 605.5,84.3 606.0,81.6 606.5,81.0 607.0,86.0 607.5,81.5 608.0,81.2 608.5,80.2 609.0,77.2 609.5,78.3 610.0,76.7 610.5,79.2 611.0,73.9 611.5,79.3 612.0,84.5 612.5,87.4 613.0,88.7 613.5,87.8 614.0,84.4 614.5,90.5 615.0,90.2 615.5,90.1 616.0,86.5 616.5,91.3 617.0,94.4 617.5,92.6 618.0,89.5 618.5,91.0 619.0,88.4 619.5,87.7 620.0,88.2 620.5,85.4 621.0,83.3 621.5,82.9 622.0,78.6 622.5,77.5 623.0,81.4 623.5,78.5 624.0,77.3 624.5,75.9 625.0,85.1 625.5,86.5 626.0,88.5 626.5,78.4 627.0,82.1 627.5,92.4 627.9,88.9 628.4,88.4 628.9,86.7 629.4,84.8 629.9,83.6 630.4,78.5 630.9,78.5 631.4,77.7 631.6,76.3 632.1,76.2 632.6,77.8 633.1,79.3 633.6,81.3 634.1,81.8 634.6,84.1 635.1,84.2 635.6,85.6 636.1,86.6 636.6,88.5 637.1,90.4 637.6,91.7 638.1,91.0 638.5,92.9 639.0,91.3 639.5,88.5 640.0,85.0 640.5,83.3 641.0,78.1 641.5,74.4 642.0,72.9 642.2,75.0 642.7,73.5 643.2,76.1 643.7,78.2 644.2,77.6 644.7,83.4 645.2,85.1 645.7,87.3 646.2,90.3 646.7,93.2 647.2,94.4 647.7,95.0 647.8,94.1 648.3,95.1 648.8,93.5 649.3,91.1 649.8,87.0 650.3,84.0 650.8,80.4 651.3,76.0 651.8,73.6 652.3,71.9 652.7,71.4 653.2,72.6 653.7,73.2 654.2,78.4 654.7,84.3 655.2,88.0 655.7,94.3 656.2,102.0 656.7,104.0 657.2,107.1 657.7,108.7 658.2,107.3 658.7,104.7 659.2,101.6 659.7,97.3 660.2,92.4 660.7,88.2 661.2,85.0 661.7,80.6 662.2,79.4 662.7,77.9 663.2,79.1 663.7,82.0 664.2,86.2 664.7,92.9 665.2,99.6 665.7,105.2 666.2,112.6 666.7,117.1 667.2,119.7 667.6,119.7 668.1,116.8 668.6,116.7 669.1,110.1 669.6,101.7 670.1,96.6 670.6,88.1 671.1,82.5 671.6,76.5 672.1,74.1 672.6,72.2 674.2,90.0 675.7,117.0 676.3,130.0 678.5,210.0 680.8,298.0"/>
<polyline fill="none" stroke="#E5202E" stroke-width="2" stroke-linejoin="round" points="628.5,88.5 628.8,88.4 629.1,88.0 629.4,87.5 629.7,86.7 630.0,85.8 630.3,84.7 630.6,83.6 630.9,82.5 631.2,81.4 631.5,80.4 631.8,79.5 632.1,78.8 632.4,78.3 632.7,78.1 632.9,78.0 633.2,78.1 633.5,78.4 633.8,79.0 634.1,79.7 634.4,80.6 634.7,81.6 635.0,82.8 635.3,84.0 635.6,85.3 635.9,86.6 636.2,87.9 636.5,89.1 636.8,90.2 637.1,91.2 637.4,92.1 637.7,92.7 638.0,93.2 638.3,93.5 638.5,93.5 638.8,93.3 639.1,92.7 639.4,91.8 639.7,90.6 640.0,89.1 640.3,87.4 640.6,85.7 640.9,83.9 641.2,82.2 641.5,80.7 641.8,79.4 642.1,78.3 642.4,77.6 642.7,77.3 642.8,77.3 643.1,77.5 643.4,78.1 643.7,79.0 644.0,80.3 644.3,81.9 644.6,83.7 644.9,85.7 645.2,87.8 645.5,89.9 645.8,92.0 646.1,93.9 646.4,95.6 646.7,97.1 647.0,98.3 647.3,99.2 647.6,99.6 647.8,99.7 648.1,99.5 648.4,98.9 648.7,97.9 649.0,96.5 649.3,94.9 649.6,93.0 649.9,91.0 650.2,88.9 650.5,86.7 650.8,84.6 651.1,82.7 651.4,81.0 651.7,79.5 652.0,78.4 652.3,77.7 652.6,77.3 652.7,77.3 653.0,77.6 653.3,78.4 653.6,79.7 653.9,81.5 654.2,83.7 654.5,86.2 654.8,89.0 655.1,91.9 655.4,94.8 655.7,97.7 656.0,100.3 656.3,102.8 656.6,104.8 656.9,106.5 657.2,107.6 657.5,108.3 657.7,108.4 658.0,108.1 658.3,107.2 658.6,105.8 658.9,103.9 659.2,101.6 659.5,99.0 659.8,96.0 660.1,93.0 660.4,89.9 660.7,86.9 661.0,84.0 661.3,81.5 661.6,79.3 661.9,77.5 662.2,76.3 662.5,75.6 662.7,75.5 663.0,75.9 663.3,77.1 663.6,79.1 663.9,81.8 664.2,85.0 664.5,88.8 664.8,92.8 665.1,97.1 665.4,101.4 665.7,105.5 666.0,109.4 666.3,112.8 666.6,115.7 666.9,117.9 667.2,119.4 667.5,120.1 667.6,120.1 667.9,119.7 668.2,118.4 668.5,116.3 668.8,113.5 669.1,110.0 669.4,106.0 669.7,101.7 670.0,97.1 670.3,92.5 670.6,88.0 670.9,83.8 671.2,80.0 671.5,76.7 671.8,74.1 672.1,72.3 672.4,71.3 672.6,71.1 672.9,71.6 673.2,73.3 673.5,75.9 673.8,79.5 674.1,83.9 674.4,88.9 674.7,94.4 675.0,100.1 675.3,105.9 675.6,111.6 675.9,117.0"/>
<rect x="439.9" y="112.3" width="217.6" height="54.6" fill="#fff" stroke="#6a6a6a" stroke-width="1.1"/>
<line x1="444" y1="122.3" x2="456" y2="122.3" stroke="#000" stroke-width="2.2" stroke-dasharray="0 4.6" stroke-linecap="round" transform="translate(1.2 0)"/>
<line x1="443.5" y1="141.7" x2="456.6" y2="141.7" stroke="#E5202E" stroke-width="1.6"/>
<line x1="443.5" y1="161" x2="456.6" y2="161" stroke="#4A72C8" stroke-width="1.6"/>
<text x="459.7" y="126.9" font-size="16">Experimental</text>
<text x="459.7" y="146.1" font-size="16">Fit λ = 484 ± 3.6 nm</text>
<text x="459.7" y="165.3" font-size="16">Prediction bounds - 99% CI</text>
<rect x="453.9" y="176.75" width="127.30" height="93.15" fill="#fff"/>
<defs><clipPath id="clipI"><rect x="453.9" y="176.75" width="127.3" height="93.15"/></clipPath></defs>
<g clip-path="url(#clipI)" fill="none">
<polyline stroke="#4A72C8" stroke-width="0.85" stroke-dasharray="3.2 2.3" points="454.1,202.6 454.4,202.4 454.7,202.1 455.0,201.9 455.3,201.5 455.6,201.2 455.9,200.8 456.2,200.4 456.5,200.0 456.8,199.6 457.1,199.1 457.4,198.7 457.7,198.2 458.0,197.7 458.3,197.1 458.6,196.6 458.9,196.0 459.2,195.5 459.5,194.9 459.8,194.3 460.1,193.8 460.4,193.2 460.7,192.6 461.0,192.0 461.3,191.4 461.6,190.9 461.9,190.3 462.2,189.7 462.5,189.2 462.8,188.6 463.1,188.1 463.4,187.6 463.7,187.1 464.0,186.6 464.3,186.1 464.6,185.7 464.9,185.2 465.2,184.8 465.5,184.4 465.8,184.1 466.1,183.8 466.4,183.4 466.7,183.2 467.0,182.9 467.3,182.7 467.6,182.5 467.9,182.3 468.2,182.2 468.5,182.1 468.8,182.0 469.1,182.0 469.3,182.0 469.6,182.0 469.9,182.1 470.2,182.2 470.5,182.3 470.8,182.5 471.1,182.7 471.4,183.0 471.7,183.3 472.0,183.6 472.3,184.0 472.6,184.4 472.9,184.9 473.2,185.4 473.5,185.9 473.8,186.4 474.1,187.0 474.4,187.6 474.7,188.2 475.0,188.9 475.3,189.6 475.6,190.3 475.9,191.0 476.2,191.8 476.5,192.5 476.8,193.3 477.1,194.1 477.4,194.9 477.7,195.7 478.0,196.5 478.3,197.3 478.6,198.1 478.9,198.9 479.2,199.7 479.5,200.5 479.8,201.3 480.1,202.1 480.4,202.9 480.7,203.6 481.0,204.4 481.3,205.1 481.6,205.8 481.9,206.5 482.2,207.2 482.5,207.9 482.8,208.5 483.1,209.1 483.4,209.7 483.7,210.2 484.0,210.7 484.3,211.2 484.6,211.6 484.9,212.0 485.2,212.4 485.5,212.7 485.8,213.0 486.1,213.2 486.4,213.5 486.7,213.6 487.0,213.8 487.3,213.8 487.6,213.9 487.8,213.9 488.1,213.9 488.4,213.8 488.7,213.7 489.0,213.5 489.3,213.3 489.6,213.0 489.9,212.7 490.2,212.3 490.5,211.9 490.8,211.4 491.1,210.9 491.4,210.4 491.7,209.8 492.0,209.2 492.3,208.6 492.6,207.9 492.9,207.2 493.2,206.4 493.5,205.7 493.8,204.9 494.1,204.1 494.4,203.3 494.7,202.5 495.0,201.6 495.3,200.8 495.6,199.9 495.9,199.1 496.2,198.3 496.5,197.4 496.8,196.6 497.1,195.8 497.4,195.0 497.7,194.2 498.0,193.4 498.3,192.7 498.6,192.0 498.9,191.3 499.2,190.6 499.5,190.0 499.8,189.4 500.1,188.8 500.4,188.3 500.7,187.9 501.0,187.4 501.3,187.0 501.6,186.7 501.9,186.4 502.2,186.2 502.5,186.0 502.8,185.8 503.1,185.7 503.4,185.7 503.5,185.7 503.8,185.7 504.1,185.8 504.4,186.0 504.7,186.2 505.0,186.4 505.3,186.7 505.6,187.1 505.9,187.5 506.2,188.0 506.5,188.5 506.8,189.1 507.1,189.7 507.4,190.3 507.7,191.0 508.0,191.8 508.3,192.6 508.6,193.4 508.9,194.3 509.2,195.2 509.5,196.1 509.8,197.1 510.1,198.1 510.4,199.1 510.7,200.1 511.0,201.2 511.3,202.2 511.6,203.3 511.9,204.4 512.2,205.5 512.5,206.6 512.8,207.7 513.1,208.8 513.4,209.8 513.7,210.9 514.0,212.0 514.3,213.0 514.6,214.1 514.9,215.1 515.2,216.1 515.5,217.1 515.8,218.0 516.1,218.9 516.4,219.8 516.7,220.6 517.0,221.4 517.3,222.2 517.6,222.9 517.9,223.6 518.2,224.2 518.5,224.8 518.8,225.4 519.1,225.8 519.4,226.3 519.7,226.7 520.0,227.0 520.3,227.3 520.6,227.5 520.9,227.6 521.2,227.7 521.5,227.8 521.6,227.8 521.9,227.8 522.2,227.7 522.5,227.5 522.8,227.2 523.1,226.9 523.4,226.5 523.7,226.1 524.0,225.6 524.3,225.0 524.6,224.4 524.9,223.7 525.2,222.9 525.5,222.1 525.8,221.3 526.1,220.4 526.4,219.4 526.7,218.5 527.0,217.4 527.3,216.4 527.6,215.3 527.9,214.2 528.2,213.0 528.5,211.9 528.8,210.7 529.1,209.5 529.4,208.3 529.7,207.1 530.0,205.9 530.3,204.7 530.6,203.5 530.9,202.3 531.2,201.2 531.5,200.1 531.8,198.9 532.1,197.9 532.4,196.8 532.7,195.8 533.0,194.8 533.3,193.9 533.6,193.0 533.9,192.2 534.2,191.4 534.5,190.7 534.8,190.0 535.1,189.4 535.4,188.8 535.7,188.3 536.0,187.9 536.3,187.6 536.6,187.3 536.9,187.0 537.2,186.9 537.5,186.8 537.7,186.8 538.0,186.8 538.3,187.0 538.6,187.2 538.9,187.5 539.2,187.9 539.5,188.3 539.8,188.9 540.1,189.5 540.4,190.2 540.7,190.9 541.0,191.8 541.3,192.7 541.6,193.7 541.9,194.7 542.2,195.8 542.5,197.0 542.8,198.2 543.1,199.5 543.4,200.8 543.7,202.2 544.0,203.6 544.3,205.0 544.6,206.5 544.9,208.0 545.2,209.5 545.5,211.1 545.8,212.6 546.1,214.2 546.4,215.8 546.7,217.4 547.0,218.9 547.3,220.5 547.6,222.0 547.9,223.6 548.2,225.1 548.5,226.6 548.8,228.0 549.1,229.4 549.4,230.8 549.7,232.2 550.0,233.5 550.3,234.7 550.6,235.9 550.9,237.0 551.2,238.1 551.5,239.1 551.8,240.0 552.1,240.9 552.4,241.7 552.7,242.4 553.0,243.0 553.3,243.6 553.6,244.1 553.9,244.5 554.2,244.8 554.5,245.1 554.8,245.2 555.1,245.3 555.2,245.3 555.5,245.2 555.8,245.1 556.1,244.8 556.4,244.5 556.7,244.0 557.0,243.5 557.3,242.8 557.6,242.1 557.9,241.2 558.2,240.3 558.5,239.3 558.8,238.2 559.1,237.0 559.4,235.8 559.7,234.5 560.0,233.1 560.3,231.7 560.6,230.2 560.9,228.6 561.2,227.0 561.5,225.4 561.8,223.7 562.1,222.0 562.4,220.3 562.7,218.6 563.0,216.8 563.3,215.1 563.6,213.3 563.9,211.6 564.2,209.8 564.5,208.1 564.8,206.4 565.1,204.8 565.4,203.2 565.7,201.6 566.0,200.0 566.3,198.6 566.6,197.1 566.9,195.8 567.2,194.5 567.5,193.3 567.8,192.1 568.1,191.1 568.4,190.1 568.7,189.2 569.0,188.4 569.3,187.7 569.6,187.0 569.9,186.5 570.2,186.1 570.5,185.8 570.8,185.5 571.1,185.4 571.3,185.4 571.6,185.4 571.9,185.6 572.2,185.8 572.5,186.1 572.8,186.5 573.1,187.0 573.4,187.6 573.7,188.3 574.0,189.1 574.3,189.9 574.6,190.8 574.9,191.8 575.2,192.9 575.5,194.0 575.8,195.2 576.1,196.5 576.4,197.8 576.7,199.2 577.0,200.6 577.3,202.1 577.6,203.6 577.9,205.2 578.2,206.8 578.5,208.4 578.8,210.0 579.1,211.7 579.4,213.3 579.7,215.0 580.0,216.7 580.3,218.4 580.6,220.1 580.9,221.7 581.2,223.4"/>
<polyline stroke="#4A72C8" stroke-width="0.85" stroke-dasharray="3.2 2.3" points="454.1,222.8 454.4,222.6 454.7,222.3 455.0,222.1 455.3,221.7 455.6,221.4 455.9,221.0 456.2,220.6 456.5,220.2 456.8,219.8 457.1,219.3 457.4,218.9 457.7,218.4 458.0,217.9 458.3,217.3 458.6,216.8 458.9,216.2 459.2,215.7 459.5,215.1 459.8,214.5 460.1,214.0 460.4,213.4 460.7,212.8 461.0,212.2 461.3,211.6 461.6,211.1 461.9,210.5 462.2,209.9 462.5,209.4 462.8,208.8 463.1,208.3 463.4,207.8 463.7,207.3 464.0,206.8 464.3,206.3 464.6,205.9 464.9,205.4 465.2,205.0 465.5,204.6 465.8,204.3 466.1,204.0 466.4,203.6 466.7,203.4 467.0,203.1 467.3,202.9 467.6,202.7 467.9,202.5 468.2,202.4 468.5,202.3 468.8,202.2 469.1,202.2 469.3,202.2 469.6,202.2 469.9,202.3 470.2,202.4 470.5,202.5 470.8,202.7 471.1,202.9 471.4,203.2 471.7,203.5 472.0,203.8 472.3,204.2 472.6,204.6 472.9,205.1 473.2,205.6 473.5,206.1 473.8,206.6 474.1,207.2 474.4,207.8 474.7,208.4 475.0,209.1 475.3,209.8 475.6,210.5 475.9,211.2 476.2,212.0 476.5,212.7 476.8,213.5 477.1,214.3 477.4,215.1 477.7,215.9 478.0,216.7 478.3,217.5 478.6,218.3 478.9,219.1 479.2,219.9 479.5,220.7 479.8,221.5 480.1,222.3 480.4,223.1 480.7,223.8 481.0,224.6 481.3,225.3 481.6,226.0 481.9,226.7 482.2,227.4 482.5,228.1 482.8,228.7 483.1,229.3 483.4,229.9 483.7,230.4 484.0,230.9 484.3,231.4 484.6,231.8 484.9,232.2 485.2,232.6 485.5,232.9 485.8,233.2 486.1,233.4 486.4,233.7 486.7,233.8 487.0,234.0 487.3,234.0 487.6,234.1 487.8,234.1 488.1,234.1 488.4,234.0 488.7,233.9 489.0,233.7 489.3,233.5 489.6,233.2 489.9,232.9 490.2,232.5 490.5,232.1 490.8,231.6 491.1,231.1 491.4,230.6 491.7,230.0 492.0,229.4 492.3,228.8 492.6,228.1 492.9,227.4 493.2,226.6 493.5,225.9 493.8,225.1 494.1,224.3 494.4,223.5 494.7,222.7 495.0,221.8 495.3,221.0 495.6,220.1 495.9,219.3 496.2,218.5 496.5,217.6 496.8,216.8 497.1,216.0 497.4,215.2 497.7,214.4 498.0,213.6 498.3,212.9 498.6,212.2 498.9,211.5 499.2,210.8 499.5,210.2 499.8,209.6 500.1,209.0 500.4,208.5 500.7,208.1 501.0,207.6 501.3,207.2 501.6,206.9 501.9,206.6 502.2,206.4 502.5,206.2 502.8,206.0 503.1,205.9 503.4,205.9 503.5,205.9 503.8,205.9 504.1,206.0 504.4,206.2 504.7,206.4 505.0,206.6 505.3,206.9 505.6,207.3 505.9,207.7 506.2,208.2 506.5,208.7 506.8,209.3 507.1,209.9 507.4,210.5 507.7,211.2 508.0,212.0 508.3,212.8 508.6,213.6 508.9,214.5 509.2,215.4 509.5,216.3 509.8,217.3 510.1,218.3 510.4,219.3 510.7,220.3 511.0,221.4 511.3,222.4 511.6,223.5 511.9,224.6 512.2,225.7 512.5,226.8 512.8,227.9 513.1,229.0 513.4,230.0 513.7,231.1 514.0,232.2 514.3,233.2 514.6,234.3 514.9,235.3 515.2,236.3 515.5,237.3 515.8,238.2 516.1,239.1 516.4,240.0 516.7,240.8 517.0,241.6 517.3,242.4 517.6,243.1 517.9,243.8 518.2,244.4 518.5,245.0 518.8,245.6 519.1,246.0 519.4,246.5 519.7,246.9 520.0,247.2 520.3,247.5 520.6,247.7 520.9,247.8 521.2,247.9 521.5,248.0 521.6,248.0 521.9,248.0 522.2,247.9 522.5,247.7 522.8,247.4 523.1,247.1 523.4,246.7 523.7,246.3 524.0,245.8 524.3,245.2 524.6,244.6 524.9,243.9 525.2,243.1 525.5,242.3 525.8,241.5 526.1,240.6 526.4,239.6 526.7,238.7 527.0,237.6 527.3,236.6 527.6,235.5 527.9,234.4 528.2,233.2 528.5,232.1 528.8,230.9 529.1,229.7 529.4,228.5 529.7,227.3 530.0,226.1 530.3,224.9 530.6,223.7 530.9,222.5 531.2,221.4 531.5,220.3 531.8,219.1 532.1,218.1 532.4,217.0 532.7,216.0 533.0,215.0 533.3,214.1 533.6,213.2 533.9,212.4 534.2,211.6 534.5,210.9 534.8,210.2 535.1,209.6 535.4,209.0 535.7,208.5 536.0,208.1 536.3,207.8 536.6,207.5 536.9,207.2 537.2,207.1 537.5,207.0 537.7,207.0 538.0,207.0 538.3,207.2 538.6,207.4 538.9,207.7 539.2,208.1 539.5,208.5 539.8,209.1 540.1,209.7 540.4,210.4 540.7,211.1 541.0,212.0 541.3,212.9 541.6,213.9 541.9,214.9 542.2,216.0 542.5,217.2 542.8,218.4 543.1,219.7 543.4,221.0 543.7,222.4 544.0,223.8 544.3,225.2 544.6,226.7 544.9,228.2 545.2,229.7 545.5,231.3 545.8,232.8 546.1,234.4 546.4,236.0 546.7,237.6 547.0,239.1 547.3,240.7 547.6,242.2 547.9,243.8 548.2,245.3 548.5,246.8 548.8,248.2 549.1,249.6 549.4,251.0 549.7,252.4 550.0,253.7 550.3,254.9 550.6,256.1 550.9,257.2 551.2,258.3 551.5,259.3 551.8,260.2 552.1,261.1 552.4,261.9 552.7,262.6 553.0,263.2 553.3,263.8 553.6,264.3 553.9,264.7 554.2,265.0 554.5,265.3 554.8,265.4 555.1,265.5 555.2,265.5 555.5,265.4 555.8,265.3 556.1,265.0 556.4,264.7 556.7,264.2 557.0,263.7 557.3,263.0 557.6,262.3 557.9,261.4 558.2,260.5 558.5,259.5 558.8,258.4 559.1,257.2 559.4,256.0 559.7,254.7 560.0,253.3 560.3,251.9 560.6,250.4 560.9,248.8 561.2,247.2 561.5,245.6 561.8,243.9 562.1,242.2 562.4,240.5 562.7,238.8 563.0,237.0 563.3,235.3 563.6,233.5 563.9,231.8 564.2,230.0 564.5,228.3 564.8,226.6 565.1,225.0 565.4,223.4 565.7,221.8 566.0,220.2 566.3,218.8 566.6,217.3 566.9,216.0 567.2,214.7 567.5,213.5 567.8,212.3 568.1,211.3 568.4,210.3 568.7,209.4 569.0,208.6 569.3,207.9 569.6,207.2 569.9,206.7 570.2,206.3 570.5,206.0 570.8,205.7 571.1,205.6 571.3,205.6 571.6,205.6 571.9,205.8 572.2,206.0 572.5,206.3 572.8,206.7 573.1,207.2 573.4,207.8 573.7,208.5 574.0,209.3 574.3,210.1 574.6,211.0 574.9,212.0 575.2,213.1 575.5,214.2 575.8,215.4 576.1,216.7 576.4,218.0 576.7,219.4 577.0,220.8 577.3,222.3 577.6,223.8 577.9,225.4 578.2,227.0 578.5,228.6 578.8,230.2 579.1,231.9 579.4,233.5 579.7,235.2 580.0,236.9 580.3,238.6 580.6,240.3 580.9,241.9 581.2,243.6"/>
<polyline stroke="#E5202E" stroke-width="2" points="454.1,212.7 454.4,212.5 454.7,212.2 455.0,212.0 455.3,211.6 455.6,211.3 455.9,210.9 456.2,210.5 456.5,210.1 456.8,209.7 457.1,209.2 457.4,208.8 457.7,208.3 458.0,207.8 458.3,207.2 458.6,206.7 458.9,206.1 459.2,205.6 459.5,205.0 459.8,204.4 460.1,203.9 460.4,203.3 460.7,202.7 461.0,202.1 461.3,201.5 461.6,201.0 461.9,200.4 462.2,199.8 462.5,199.3 462.8,198.7 463.1,198.2 463.4,197.7 463.7,197.2 464.0,196.7 464.3,196.2 464.6,195.8 464.9,195.3 465.2,194.9 465.5,194.5 465.8,194.2 466.1,193.9 466.4,193.5 466.7,193.3 467.0,193.0 467.3,192.8 467.6,192.6 467.9,192.4 468.2,192.3 468.5,192.2 468.8,192.1 469.1,192.1 469.3,192.1 469.6,192.1 469.9,192.2 470.2,192.3 470.5,192.4 470.8,192.6 471.1,192.8 471.4,193.1 471.7,193.4 472.0,193.7 472.3,194.1 472.6,194.5 472.9,195.0 473.2,195.5 473.5,196.0 473.8,196.5 474.1,197.1 474.4,197.7 474.7,198.3 475.0,199.0 475.3,199.7 475.6,200.4 475.9,201.1 476.2,201.9 476.5,202.6 476.8,203.4 477.1,204.2 477.4,205.0 477.7,205.8 478.0,206.6 478.3,207.4 478.6,208.2 478.9,209.0 479.2,209.8 479.5,210.6 479.8,211.4 480.1,212.2 480.4,213.0 480.7,213.7 481.0,214.5 481.3,215.2 481.6,215.9 481.9,216.6 482.2,217.3 482.5,218.0 482.8,218.6 483.1,219.2 483.4,219.8 483.7,220.3 484.0,220.8 484.3,221.3 484.6,221.7 484.9,222.1 485.2,222.5 485.5,222.8 485.8,223.1 486.1,223.3 486.4,223.6 486.7,223.7 487.0,223.9 487.3,223.9 487.6,224.0 487.8,224.0 488.1,224.0 488.4,223.9 488.7,223.8 489.0,223.6 489.3,223.4 489.6,223.1 489.9,222.8 490.2,222.4 490.5,222.0 490.8,221.5 491.1,221.0 491.4,220.5 491.7,219.9 492.0,219.3 492.3,218.7 492.6,218.0 492.9,217.3 493.2,216.5 493.5,215.8 493.8,215.0 494.1,214.2 494.4,213.4 494.7,212.6 495.0,211.7 495.3,210.9 495.6,210.0 495.9,209.2 496.2,208.4 496.5,207.5 496.8,206.7 497.1,205.9 497.4,205.1 497.7,204.3 498.0,203.5 498.3,202.8 498.6,202.1 498.9,201.4 499.2,200.7 499.5,200.1 499.8,199.5 500.1,198.9 500.4,198.4 500.7,198.0 501.0,197.5 501.3,197.1 501.6,196.8 501.9,196.5 502.2,196.3 502.5,196.1 502.8,195.9 503.1,195.8 503.4,195.8 503.5,195.8 503.8,195.8 504.1,195.9 504.4,196.1 504.7,196.3 505.0,196.5 505.3,196.8 505.6,197.2 505.9,197.6 506.2,198.1 506.5,198.6 506.8,199.2 507.1,199.8 507.4,200.4 507.7,201.1 508.0,201.9 508.3,202.7 508.6,203.5 508.9,204.4 509.2,205.3 509.5,206.2 509.8,207.2 510.1,208.2 510.4,209.2 510.7,210.2 511.0,211.3 511.3,212.3 511.6,213.4 511.9,214.5 512.2,215.6 512.5,216.7 512.8,217.8 513.1,218.9 513.4,219.9 513.7,221.0 514.0,222.1 514.3,223.1 514.6,224.2 514.9,225.2 515.2,226.2 515.5,227.2 515.8,228.1 516.1,229.0 516.4,229.9 516.7,230.7 517.0,231.5 517.3,232.3 517.6,233.0 517.9,233.7 518.2,234.3 518.5,234.9 518.8,235.5 519.1,235.9 519.4,236.4 519.7,236.8 520.0,237.1 520.3,237.4 520.6,237.6 520.9,237.7 521.2,237.8 521.5,237.9 521.6,237.9 521.9,237.9 522.2,237.8 522.5,237.6 522.8,237.3 523.1,237.0 523.4,236.6 523.7,236.2 524.0,235.7 524.3,235.1 524.6,234.5 524.9,233.8 525.2,233.0 525.5,232.2 525.8,231.4 526.1,230.5 526.4,229.5 526.7,228.6 527.0,227.5 527.3,226.5 527.6,225.4 527.9,224.3 528.2,223.1 528.5,222.0 528.8,220.8 529.1,219.6 529.4,218.4 529.7,217.2 530.0,216.0 530.3,214.8 530.6,213.6 530.9,212.4 531.2,211.3 531.5,210.2 531.8,209.0 532.1,208.0 532.4,206.9 532.7,205.9 533.0,204.9 533.3,204.0 533.6,203.1 533.9,202.3 534.2,201.5 534.5,200.8 534.8,200.1 535.1,199.5 535.4,198.9 535.7,198.4 536.0,198.0 536.3,197.7 536.6,197.4 536.9,197.1 537.2,197.0 537.5,196.9 537.7,196.9 538.0,196.9 538.3,197.1 538.6,197.3 538.9,197.6 539.2,198.0 539.5,198.4 539.8,199.0 540.1,199.6 540.4,200.3 540.7,201.0 541.0,201.9 541.3,202.8 541.6,203.8 541.9,204.8 542.2,205.9 542.5,207.1 542.8,208.3 543.1,209.6 543.4,210.9 543.7,212.3 544.0,213.7 544.3,215.1 544.6,216.6 544.9,218.1 545.2,219.6 545.5,221.2 545.8,222.7 546.1,224.3 546.4,225.9 546.7,227.5 547.0,229.0 547.3,230.6 547.6,232.1 547.9,233.7 548.2,235.2 548.5,236.7 548.8,238.1 549.1,239.5 549.4,240.9 549.7,242.3 550.0,243.6 550.3,244.8 550.6,246.0 550.9,247.1 551.2,248.2 551.5,249.2 551.8,250.1 552.1,251.0 552.4,251.8 552.7,252.5 553.0,253.1 553.3,253.7 553.6,254.2 553.9,254.6 554.2,254.9 554.5,255.2 554.8,255.3 555.1,255.4 555.2,255.4 555.5,255.3 555.8,255.2 556.1,254.9 556.4,254.6 556.7,254.1 557.0,253.6 557.3,252.9 557.6,252.2 557.9,251.3 558.2,250.4 558.5,249.4 558.8,248.3 559.1,247.1 559.4,245.9 559.7,244.6 560.0,243.2 560.3,241.8 560.6,240.3 560.9,238.7 561.2,237.1 561.5,235.5 561.8,233.8 562.1,232.1 562.4,230.4 562.7,228.7 563.0,226.9 563.3,225.2 563.6,223.4 563.9,221.7 564.2,219.9 564.5,218.2 564.8,216.5 565.1,214.9 565.4,213.3 565.7,211.7 566.0,210.1 566.3,208.7 566.6,207.2 566.9,205.9 567.2,204.6 567.5,203.4 567.8,202.2 568.1,201.2 568.4,200.2 568.7,199.3 569.0,198.5 569.3,197.8 569.6,197.1 569.9,196.6 570.2,196.2 570.5,195.9 570.8,195.6 571.1,195.5 571.3,195.5 571.6,195.5 571.9,195.7 572.2,195.9 572.5,196.2 572.8,196.6 573.1,197.1 573.4,197.7 573.7,198.4 574.0,199.2 574.3,200.0 574.6,200.9 574.9,201.9 575.2,203.0 575.5,204.1 575.8,205.3 576.1,206.6 576.4,207.9 576.7,209.3 577.0,210.7 577.3,212.2 577.6,213.7 577.9,215.3 578.2,216.9 578.5,218.5 578.8,220.1 579.1,221.8 579.4,223.4 579.7,225.1 580.0,226.8 580.3,228.5 580.6,230.2 580.9,231.8 581.2,233.5"/>
<circle cx="458.1" cy="207.7" r="1.45" fill="#111"/>
<circle cx="460.6" cy="205.2" r="1.45" fill="#111"/>
<circle cx="461.5" cy="201.0" r="1.45" fill="#111"/>
<circle cx="462.5" cy="196.8" r="1.45" fill="#111"/>
<circle cx="464.9" cy="193.6" r="1.45" fill="#111"/>
<circle cx="468.9" cy="194.0" r="1.45" fill="#111"/>
<circle cx="471.9" cy="197.2" r="1.45" fill="#111"/>
<circle cx="474.3" cy="200.7" r="1.45" fill="#111"/>
<circle cx="476.3" cy="204.5" r="1.45" fill="#111"/>
<circle cx="477.8" cy="208.5" r="1.45" fill="#111"/>
<circle cx="479.3" cy="212.6" r="1.45" fill="#111"/>
<circle cx="480.4" cy="216.7" r="1.45" fill="#111"/>
<circle cx="482.3" cy="220.3" r="1.45" fill="#111"/>
<circle cx="485.7" cy="219.9" r="1.45" fill="#111"/>
<circle cx="487.1" cy="224.0" r="1.45" fill="#111"/>
<circle cx="489.1" cy="221.8" r="1.45" fill="#111"/>
<circle cx="490.0" cy="217.6" r="1.45" fill="#111"/>
<circle cx="491.1" cy="213.4" r="1.45" fill="#111"/>
<circle cx="492.5" cy="209.4" r="1.45" fill="#111"/>
<circle cx="494.0" cy="205.3" r="1.45" fill="#111"/>
<circle cx="495.4" cy="201.3" r="1.45" fill="#111"/>
<circle cx="496.9" cy="197.2" r="1.45" fill="#111"/>
<circle cx="498.5" cy="193.3" r="1.45" fill="#111"/>
<circle cx="501.3" cy="190.0" r="1.45" fill="#111"/>
<circle cx="504.4" cy="191.8" r="1.45" fill="#111"/>
<circle cx="506.2" cy="195.7" r="1.45" fill="#111"/>
<circle cx="507.8" cy="199.7" r="1.45" fill="#111"/>
<circle cx="509.1" cy="203.8" r="1.45" fill="#111"/>
<circle cx="510.5" cy="207.9" r="1.45" fill="#111"/>
<circle cx="512.0" cy="211.9" r="1.45" fill="#111"/>
<circle cx="513.4" cy="216.0" r="1.45" fill="#111"/>
<circle cx="514.8" cy="220.0" r="1.45" fill="#111"/>
<circle cx="515.9" cy="224.2" r="1.45" fill="#111"/>
<circle cx="517.0" cy="228.4" r="1.45" fill="#111"/>
<circle cx="518.1" cy="232.5" r="1.45" fill="#111"/>
<circle cx="519.7" cy="236.5" r="1.45" fill="#111"/>
<circle cx="522.4" cy="238.4" r="1.45" fill="#111"/>
<circle cx="524.1" cy="234.4" r="1.45" fill="#111"/>
<circle cx="525.6" cy="230.4" r="1.45" fill="#111"/>
<circle cx="526.8" cy="226.3" r="1.45" fill="#111"/>
<circle cx="527.9" cy="222.1" r="1.45" fill="#111"/>
<circle cx="529.0" cy="218.0" r="1.45" fill="#111"/>
<circle cx="530.2" cy="213.8" r="1.45" fill="#111"/>
<circle cx="531.4" cy="209.7" r="1.45" fill="#111"/>
<circle cx="532.7" cy="205.6" r="1.45" fill="#111"/>
<circle cx="534.4" cy="201.6" r="1.45" fill="#111"/>
<circle cx="536.2" cy="197.8" r="1.45" fill="#111"/>
<circle cx="539.5" cy="197.8" r="1.45" fill="#111"/>
<circle cx="541.7" cy="201.5" r="1.45" fill="#111"/>
<circle cx="543.2" cy="205.5" r="1.45" fill="#111"/>
<circle cx="544.3" cy="209.6" r="1.45" fill="#111"/>
<circle cx="545.3" cy="213.8" r="1.45" fill="#111"/>
<circle cx="546.2" cy="218.0" r="1.45" fill="#111"/>
<circle cx="547.2" cy="222.2" r="1.45" fill="#111"/>
<circle cx="548.1" cy="226.4" r="1.45" fill="#111"/>
<circle cx="549.0" cy="230.6" r="1.45" fill="#111"/>
<circle cx="550.0" cy="234.8" r="1.45" fill="#111"/>
<circle cx="550.8" cy="239.0" r="1.45" fill="#111"/>
<circle cx="551.6" cy="243.2" r="1.45" fill="#111"/>
<circle cx="552.4" cy="247.5" r="1.45" fill="#111"/>
<circle cx="553.3" cy="251.7" r="1.45" fill="#111"/>
<circle cx="554.7" cy="255.7" r="1.45" fill="#111"/>
<circle cx="556.9" cy="252.8" r="1.45" fill="#111"/>
<circle cx="558.1" cy="248.7" r="1.45" fill="#111"/>
<circle cx="559.1" cy="244.5" r="1.45" fill="#111"/>
<circle cx="560.1" cy="240.3" r="1.45" fill="#111"/>
<circle cx="560.9" cy="236.1" r="1.45" fill="#111"/>
<circle cx="561.7" cy="231.9" r="1.45" fill="#111"/>
<circle cx="562.5" cy="227.6" r="1.45" fill="#111"/>
<circle cx="563.3" cy="223.4" r="1.45" fill="#111"/>
<circle cx="564.1" cy="219.2" r="1.45" fill="#111"/>
<circle cx="564.8" cy="215.0" r="1.45" fill="#111"/>
<circle cx="565.6" cy="210.7" r="1.45" fill="#111"/>
<circle cx="566.6" cy="206.5" r="1.45" fill="#111"/>
<circle cx="567.8" cy="202.4" r="1.45" fill="#111"/>
<circle cx="569.1" cy="198.3" r="1.45" fill="#111"/>
<circle cx="571.5" cy="195.0" r="1.45" fill="#111"/>
<circle cx="573.3" cy="198.9" r="1.45" fill="#111"/>
<circle cx="574.4" cy="203.0" r="1.45" fill="#111"/>
<circle cx="575.6" cy="207.2" r="1.45" fill="#111"/>
<circle cx="576.4" cy="211.4" r="1.45" fill="#111"/>
<circle cx="577.2" cy="215.6" r="1.45" fill="#111"/>
<circle cx="578.0" cy="219.8" r="1.45" fill="#111"/>
<circle cx="578.8" cy="224.0" r="1.45" fill="#111"/>
<circle cx="579.7" cy="228.3" r="1.45" fill="#111"/>
<circle cx="580.5" cy="232.5" r="1.45" fill="#111"/>
</g>
<rect x="453.9" y="176.75" width="127.30" height="93.15" fill="none" stroke="#262626" stroke-width="1.4"/>
<path d="M459.8 269.9v-3.2M459.8 176.75v3.2M476.1 269.9v-3.2M476.1 176.75v3.2M492.5 269.9v-3.2M492.5 176.75v3.2M508.9 269.9v-3.2M508.9 176.75v3.2M525.2 269.9v-3.2M525.2 176.75v3.2M541.4 269.9v-3.2M541.4 176.75v3.2M557.5 269.9v-3.2M557.5 176.75v3.2M573.8 269.9v-3.2M573.8 176.75v3.2M453.9 266.00h3.2M581.2 266.00h-3.2M453.9 253.25h3.2M581.2 253.25h-3.2M453.9 240.50h3.2M581.2 240.50h-3.2M453.9 227.75h3.2M581.2 227.75h-3.2M453.9 215.00h3.2M581.2 215.00h-3.2M453.9 202.25h3.2M581.2 202.25h-3.2M453.9 189.50h3.2M581.2 189.50h-3.2M453.9 176.75h3.2M581.2 176.75h-3.2" stroke="#262626" stroke-width="1.2" fill="none"/>
<text x="452.6" y="182.8" font-size="16" text-anchor="end">155</text>
<text x="452.6" y="208.2" font-size="16" text-anchor="end">145</text>
<text x="452.6" y="233.8" font-size="16" text-anchor="end">135</text>
<text x="452.6" y="259.2" font-size="16" text-anchor="end">125</text>
<text x="492.5" y="284.5" font-size="16" text-anchor="middle">1000</text>
<text x="555.8" y="284.5" font-size="16" text-anchor="middle">400</text>
<rect x="390.7" y="48.9" width="292.2" height="247.2" fill="none" stroke="#1c1c1c" stroke-width="1.5"/>
<path d="M418.1 296.1v-4M454.85 296.1v-4M491.6 296.1v-4M528.35 296.1v-4M565.1 296.1v-4M601.85 296.1v-4M638.6 296.1v-4M675.35 296.1v-4M399.3 48.9v4M436.05 48.9v4M472.8 48.9v4M509.55 48.9v4M546.3 48.9v4M583.05 48.9v4M619.8 48.9v4M656.55 48.9v4M390.7 254.9h4M682.9 254.9h-4M390.7 213.7h4M682.9 213.7h-4M390.7 172.5h4M682.9 172.5h-4M390.7 131.3h4M682.9 131.3h-4M390.7 90.1h4M682.9 90.1h-4" stroke="#1c1c1c" stroke-width="1.5" fill="none"/>
<text x="389.2" y="302.7" font-size="16" text-anchor="end" >40</text>
<text x="389.2" y="261.5" font-size="16" text-anchor="end" >60</text>
<text x="389.2" y="220.3" font-size="16" text-anchor="end" >80</text>
<text x="389.2" y="179.1" font-size="16" text-anchor="end" >100</text>
<text x="389.2" y="137.9" font-size="16" text-anchor="end" >120</text>
<text x="389.2" y="96.7" font-size="16" text-anchor="end" >140</text>
<text x="389.2" y="55.5" font-size="16" text-anchor="end" >160</text>
<text x="454.85" y="311" font-size="16" text-anchor="middle" >6000</text>
<text x="528.35" y="311" font-size="16" text-anchor="middle" >4000</text>
<text x="601.85" y="311" font-size="16" text-anchor="middle" >2000</text>
<text x="675.35" y="311" font-size="16" text-anchor="middle" >0</text>
<text x="423.4" y="328" font-size="16" text-anchor="start" >Distance to Center of Target (nm)</text>
<text transform="translate(361.4 45.3) rotate(-90)" font-size="16" text-anchor="end">Integrated PSF Intensity (arb. units)</text>
<text x="395.3" y="42.1" font-size="16" text-anchor="start" >Fitting of Oscillations in Averaged Trace</text>
<text x="348.7" y="19.7" font-size="26" text-anchor="start" transform="translate(348.7 19.7) scale(1.06 1) translate(-348.7 -19.7)">b</text>
<defs><clipPath id="clipC"><rect x="43.9" y="386.4" width="287.3" height="246.2"/></clipPath></defs>
<g fill="none" stroke-width="1.5" stroke-linejoin="round" clip-path="url(#clipC)">
<polyline stroke="#0072BD" points="44.0,552.4 44.8,557.2 45.5,559.9 46.2,549.9 47.0,561.5 47.8,558.4 48.5,561.9 49.2,558.7 50.0,564.5 50.8,550.9 51.5,568.5 52.2,564.8 53.0,552.8 53.8,560.5 54.5,558.4 55.2,543.4 56.0,557.7 56.8,549.1 57.5,550.3 58.2,547.3 59.0,547.7 59.8,550.6 60.5,550.5 61.2,539.5 62.0,547.7 62.8,540.6 63.5,540.9 64.2,546.8 65.0,554.5 65.8,552.9 66.5,544.8 67.2,544.0 68.0,543.2 68.8,549.4 69.5,554.5 70.2,548.4 71.0,552.7 71.8,550.1 72.5,557.7 73.2,534.7 74.0,533.8 74.8,546.2 75.5,551.4 76.2,544.5 77.0,549.7 77.8,539.2 78.5,538.5 79.2,541.8 80.0,551.8 80.8,550.8 81.5,541.5 82.2,547.3 83.0,541.8 83.8,546.1 84.5,538.8 85.2,545.8 86.0,541.4 86.8,546.0 87.5,542.3 88.2,541.4 89.0,547.7 89.8,545.0 90.5,547.6 91.2,545.0 92.0,552.0 92.8,543.0 93.5,553.6 94.2,557.5 95.0,547.3 95.8,560.6 96.5,562.7 97.2,552.6 98.0,541.0 98.8,539.4 99.5,548.8 100.2,561.5 101.0,553.7 101.8,554.8 102.5,548.2 103.2,544.8 104.0,551.9 104.8,542.1 105.5,547.8 106.2,552.2 107.0,548.8 107.8,551.7 108.5,545.2 109.2,551.7 110.0,550.1 110.8,536.5 111.5,540.2 112.2,542.0 113.0,550.7 113.8,548.1 114.5,547.8 115.2,546.8 116.0,549.7 116.8,551.5 117.5,541.6 118.2,534.8 119.0,549.4 119.8,543.6 120.5,545.3 121.2,543.9 122.0,537.9 122.8,535.4 123.5,551.6 124.2,552.6 125.0,551.7 125.8,547.2 126.5,547.7 127.2,543.5 128.0,546.9 128.8,544.0 129.5,543.3 130.2,548.4 131.0,558.3 131.8,535.3 132.5,551.6 133.2,552.3 134.0,540.2 134.8,550.4 135.5,549.1 136.2,545.6 137.0,545.5 137.8,539.7 138.5,560.0 139.2,564.2 140.0,559.3 140.8,547.0 141.5,550.5 142.2,550.8 143.0,542.6 143.8,545.6 144.5,550.1 145.2,543.3 146.0,533.9 146.8,536.4 147.5,545.7 148.2,541.3 149.0,541.0 149.8,551.3 150.5,542.8 151.2,537.3 152.0,541.4 152.8,555.6 153.5,534.1 154.2,552.8 155.0,550.3 155.8,539.5 156.5,537.4 157.2,546.1 158.0,535.0 158.8,526.5 159.5,539.4 160.2,528.4 161.0,532.3 161.8,535.6 162.5,539.5 163.2,547.8 164.0,548.1 164.8,555.8 165.5,561.2 166.2,563.1 167.0,565.3 167.8,568.6 168.5,564.7 169.2,556.5 170.0,566.9 170.8,549.5 171.5,554.7 172.2,559.9 173.0,545.5 173.8,564.3 174.5,546.5 175.2,541.9 176.0,545.6 176.8,544.6 177.5,548.4 178.2,546.5 179.0,553.4 179.8,544.8 180.5,546.3 181.2,538.2 182.0,547.7 182.8,539.4 183.5,531.7 184.2,552.9 185.0,537.5 185.8,537.3 186.5,538.7 187.2,548.6 188.0,534.5 188.8,541.9 189.5,549.1 190.2,559.3 191.0,547.3 191.8,552.0 192.5,548.7 193.2,569.9 194.0,558.5 194.8,561.2 195.5,564.9 196.2,560.6 197.0,569.0 197.8,563.1 198.5,582.9 199.2,573.5 200.0,574.0 200.8,583.2 201.5,568.2 202.2,585.6 203.0,586.6 203.8,571.6 204.5,579.5 205.2,571.3 206.0,573.5 206.8,563.3 207.5,552.4 208.2,557.9 209.0,548.3 209.8,545.8 210.5,545.8 211.2,542.9 212.0,536.0 212.8,521.8 213.5,536.2 214.2,531.3 215.0,542.2 215.8,536.4 216.5,549.3 217.2,546.2 218.0,546.4 218.8,552.3 219.5,543.1 220.2,562.2 221.0,562.7 221.8,558.1 222.5,571.2 223.2,573.8 224.0,577.1 224.8,576.8 225.5,585.2 226.2,587.7 227.0,585.6 227.8,587.0 228.5,586.4 229.2,586.7 230.0,594.7 230.8,585.9 231.5,578.1 232.2,586.1 233.0,588.9 233.8,577.3 234.5,582.8 235.2,579.3 236.0,568.7 236.8,576.5 237.5,573.0 238.2,577.6 239.0,554.7 239.8,578.1 240.5,577.8 241.2,567.9 242.0,582.0 242.8,575.4 243.5,578.8 244.2,584.1 245.0,587.4 245.8,579.6 246.5,582.5 247.2,580.3 248.0,572.2 248.8,587.4 249.5,582.2 250.2,579.6 251.0,587.8 251.8,586.8 252.5,582.0 253.2,594.0 254.0,589.5 254.8,594.8 255.5,598.5 256.2,600.0 257.0,607.6 257.8,598.1 258.5,597.1 259.2,594.7 260.0,596.5 260.8,606.0 261.5,605.4 262.2,598.2 263.0,601.2 263.8,604.1 264.5,619.3 265.2,605.6 266.0,616.5 266.8,605.8 267.5,616.9 268.2,621.4 269.0,621.3 269.8,625.0 270.5,624.0 271.2,626.4 272.0,626.0 272.8,627.4 273.5,627.6 274.2,628.7 275.0,628.4 275.8,628.4 276.5,627.8 277.2,628.6 278.0,627.6 278.8,627.7 279.5,627.7 280.2,628.7 281.0,628.9 281.8,628.2 282.5,628.9 283.2,627.4 284.0,627.8 284.8,628.6 285.5,628.7 286.2,628.8 287.0,628.9 287.8,628.1 288.5,628.9 289.2,628.4 290.0,626.0 290.8,627.4 291.5,627.8 292.2,628.3 293.0,628.7 293.8,628.0 294.5,628.9 295.2,627.5 296.0,628.2 296.8,628.9 297.5,627.3 298.2,628.9 299.0,628.9 299.8,628.1 300.5,628.2 301.2,628.2 302.0,628.3 302.8,628.9 303.5,628.6 304.2,627.1 305.0,627.0 305.8,628.7 306.5,626.1 307.2,627.0 308.0,627.7 308.8,628.2 309.5,628.9 310.2,628.4 311.0,628.9 311.8,628.4 312.5,628.9 313.2,628.9 314.0,628.1 314.8,628.9 315.5,628.7 316.2,628.3 317.0,625.9 317.8,623.8 318.5,623.7 319.2,624.1 320.0,626.7 320.8,628.4 321.5,628.4 322.2,628.2 323.0,628.7 323.8,628.9 324.5,628.9 325.2,628.6 326.0,627.8 326.8,627.7 327.5,628.7 328.2,627.0 329.0,627.8 329.8,628.9 330.5,628.0"/>
<polyline stroke="#D95319" points="44.0,475.9 44.8,473.0 45.5,495.8 46.2,494.7 47.0,477.6 47.8,512.9 48.5,497.7 49.2,502.7 50.0,512.2 50.8,485.2 51.5,462.6 52.2,465.7 53.0,487.1 53.8,454.4 54.5,476.2 55.2,477.3 56.0,457.1 56.8,474.0 57.5,478.8 58.2,461.3 59.0,464.8 59.8,477.9 60.5,453.7 61.2,458.9 62.0,482.5 62.8,470.9 63.5,451.2 64.2,469.5 65.0,494.4 65.8,449.3 66.5,479.4 67.2,478.6 68.0,466.4 68.8,476.6 69.5,460.4 70.2,489.7 71.0,492.7 71.8,459.7 72.5,469.2 73.2,474.5 74.0,465.4 74.8,478.7 75.5,461.0 76.2,482.2 77.0,470.7 77.8,473.7 78.5,480.1 79.2,485.5 80.0,460.2 80.8,482.7 81.5,483.3 82.2,469.9 83.0,491.0 83.8,460.8 84.5,463.6 85.2,475.7 86.0,462.1 86.8,489.2 87.5,473.9 88.2,494.0 89.0,458.2 89.8,459.8 90.5,489.8 91.2,459.0 92.0,486.7 92.8,462.2 93.5,475.9 94.2,487.3 95.0,471.0 95.8,456.3 96.5,464.3 97.2,484.9 98.0,472.1 98.8,478.4 99.5,470.0 100.2,472.5 101.0,466.3 101.8,455.8 102.5,476.4 103.2,472.2 104.0,444.6 104.8,471.0 105.5,484.1 106.2,497.1 107.0,454.7 107.8,474.1 108.5,480.0 109.2,482.6 110.0,463.6 110.8,479.1 111.5,466.9 112.2,471.5 113.0,464.9 113.8,475.6 114.5,466.3 115.2,475.1 116.0,469.8 116.8,482.6 117.5,492.4 118.2,469.4 119.0,460.7 119.8,430.0 120.5,463.0 121.2,448.2 122.0,469.9 122.8,463.0 123.5,480.9 124.2,467.2 125.0,480.7 125.8,478.1 126.5,461.1 127.2,462.6 128.0,459.3 128.8,459.4 129.5,475.2 130.2,457.1 131.0,457.8 131.8,452.4 132.5,480.8 133.2,458.0 134.0,461.0 134.8,452.5 135.5,467.7 136.2,455.5 137.0,458.1 137.8,441.4 138.5,447.5 139.2,472.1 140.0,480.1 140.8,448.8 141.5,472.5 142.2,472.7 143.0,509.6 143.8,456.9 144.5,460.7 145.2,455.4 146.0,479.2 146.8,481.6 147.5,464.0 148.2,486.6 149.0,493.6 149.8,459.5 150.5,471.7 151.2,460.7 152.0,453.5 152.8,454.0 153.5,455.0 154.2,439.2 155.0,452.4 155.8,461.4 156.5,436.0 157.2,438.3 158.0,427.5 158.8,437.2 159.5,425.3 160.2,396.0 161.0,423.3 161.8,412.9 162.5,444.4 163.2,437.2 164.0,459.8 164.8,458.4 165.5,419.1 166.2,431.6 167.0,461.5 167.8,454.6 168.5,438.0 169.2,462.0 170.0,486.6 170.8,477.8 171.5,456.5 172.2,469.4 173.0,475.9 173.8,457.0 174.5,479.0 175.2,443.5 176.0,477.2 176.8,467.1 177.5,450.9 178.2,443.9 179.0,438.3 179.8,422.9 180.5,445.4 181.2,447.5 182.0,440.2 182.8,397.0 183.5,431.8 184.2,419.0 185.0,423.6 185.8,414.7 186.5,441.2 187.2,424.9 188.0,449.4 188.8,431.8 189.5,460.9 190.2,464.9 191.0,466.7 191.8,464.6 192.5,449.3 193.2,453.1 194.0,451.9 194.8,470.2 195.5,492.4 196.2,461.1 197.0,511.4 197.8,476.9 198.5,473.3 199.2,497.7 200.0,512.6 200.8,499.0 201.5,494.4 202.2,532.6 203.0,495.3 203.8,520.9 204.5,507.2 205.2,496.9 206.0,498.4 206.8,479.1 207.5,471.6 208.2,480.4 209.0,452.3 209.8,445.6 210.5,466.3 211.2,464.2 212.0,448.4 212.8,439.5 213.5,419.7 214.2,421.5 215.0,410.6 215.8,396.0 216.5,427.4 217.2,431.5 218.0,445.7 218.8,421.8 219.5,458.2 220.2,443.8 221.0,443.1 221.8,464.1 222.5,487.0 223.2,481.2 224.0,493.7 224.8,483.1 225.5,507.1 226.2,519.5 227.0,500.4 227.8,521.6 228.5,501.8 229.2,524.3 230.0,503.8 230.8,530.3 231.5,526.5 232.2,513.3 233.0,533.7 233.8,516.9 234.5,531.2 235.2,518.1 236.0,536.1 236.8,520.4 237.5,544.5 238.2,529.9 239.0,529.2 239.8,503.6 240.5,493.1 241.2,509.8 242.0,543.7 242.8,507.9 243.5,536.0 244.2,536.5 245.0,512.6 245.8,517.4 246.5,537.2 247.2,517.2 248.0,517.8 248.8,520.0 249.5,533.4 250.2,535.8 251.0,556.8 251.8,546.4 252.5,560.9 253.2,546.3 254.0,582.2 254.8,550.3 255.5,552.1 256.2,546.0 257.0,536.9 257.8,550.0 258.5,566.5 259.2,553.1 260.0,578.9 260.8,549.0 261.5,550.0 262.2,576.9 263.0,579.1 263.8,561.3 264.5,594.8 265.2,610.7 266.0,611.7 266.8,601.7 267.5,628.9 268.2,621.9 269.0,624.9 269.8,628.0 270.5,628.0 271.2,628.9 272.0,628.5 272.8,628.9 273.5,628.9 274.2,628.9 275.0,628.9 275.8,628.9 276.5,628.6 277.2,628.7 278.0,628.5 278.8,628.9 279.5,628.5 280.2,628.9 281.0,628.8 281.8,628.2 282.5,628.5 283.2,628.9 284.0,628.6 284.8,628.9 285.5,628.0 286.2,628.9 287.0,628.9 287.8,628.9 288.5,628.9 289.2,628.3 290.0,628.0 290.8,628.2 291.5,628.9 292.2,628.9 293.0,628.9 293.8,628.6 294.5,628.9 295.2,628.1 296.0,628.9 296.8,628.3 297.5,628.6 298.2,628.9 299.0,628.9 299.8,628.8 300.5,628.7 301.2,628.9 302.0,628.9 302.8,628.5 303.5,628.9 304.2,628.7 305.0,628.9 305.8,628.9 306.5,628.9 307.2,628.9 308.0,628.6 308.8,628.9 309.5,628.9 310.2,627.7 311.0,628.7 311.8,628.9 312.5,628.5 313.2,628.4 314.0,628.5 314.8,628.9 315.5,628.4 316.2,628.9 317.0,628.9 317.8,628.9 318.5,628.9 319.2,628.8 320.0,628.9 320.8,628.9 321.5,628.9 322.2,628.2 323.0,627.7 323.8,624.3 324.5,622.6 325.2,622.7 326.0,623.8 326.8,625.7 327.5,627.0 328.2,625.6 329.0,623.6 329.8,623.6 330.5,624.2"/>
<polyline stroke="#3BAA5E" points="44.0,419.3 44.8,413.0 45.5,481.2 46.2,446.9 47.0,450.7 47.8,437.1 48.5,442.3 49.2,447.5 50.0,445.5 50.8,432.0 51.5,452.9 52.2,450.8 53.0,440.1 53.8,429.2 54.5,425.4 55.2,422.0 56.0,442.4 56.8,430.4 57.5,449.8 58.2,418.8 59.0,445.3 59.8,432.9 60.5,422.7 61.2,450.3 62.0,435.5 62.8,446.8 63.5,452.5 64.2,443.0 65.0,427.0 65.8,439.2 66.5,453.9 67.2,426.9 68.0,447.5 68.8,435.6 69.5,431.6 70.2,431.1 71.0,423.3 71.8,438.2 72.5,450.1 73.2,410.9 74.0,438.5 74.8,449.5 75.5,439.6 76.2,459.0 77.0,432.7 77.8,458.4 78.5,459.9 79.2,452.9 80.0,433.7 80.8,476.0 81.5,442.0 82.2,454.8 83.0,429.7 83.8,434.2 84.5,452.7 85.2,422.7 86.0,453.6 86.8,475.5 87.5,422.2 88.2,441.2 89.0,460.3 89.8,440.1 90.5,459.9 91.2,448.9 92.0,417.6 92.8,402.3 93.5,442.1 94.2,462.6 95.0,434.0 95.8,470.3 96.5,424.0 97.2,463.2 98.0,450.4 98.8,452.7 99.5,449.4 100.2,444.6 101.0,454.3 101.8,437.0 102.5,471.1 103.2,435.5 104.0,465.2 104.8,436.9 105.5,432.1 106.2,465.0 107.0,460.2 107.8,455.3 108.5,484.1 109.2,441.4 110.0,470.1 110.8,459.9 111.5,483.5 112.2,436.2 113.0,448.2 113.8,445.5 114.5,439.4 115.2,428.8 116.0,450.3 116.8,449.4 117.5,438.5 118.2,449.5 119.0,423.7 119.8,475.9 120.5,459.6 121.2,453.4 122.0,461.1 122.8,442.2 123.5,436.1 124.2,437.0 125.0,433.1 125.8,437.8 126.5,462.9 127.2,436.5 128.0,467.8 128.8,451.1 129.5,475.9 130.2,434.6 131.0,431.0 131.8,432.2 132.5,405.6 133.2,454.6 134.0,449.2 134.8,443.0 135.5,442.0 136.2,455.8 137.0,424.1 137.8,444.6 138.5,444.2 139.2,450.8 140.0,461.9 140.8,444.4 141.5,422.7 142.2,444.3 143.0,430.1 143.8,435.0 144.5,415.8 145.2,427.6 146.0,430.9 146.8,426.3 147.5,439.4 148.2,461.6 149.0,430.0 149.8,416.1 150.5,427.6 151.2,453.4 152.0,438.0 152.8,455.9 153.5,444.6 154.2,459.9 155.0,437.6 155.8,467.4 156.5,449.1 157.2,453.6 158.0,464.5 158.8,400.6 159.5,457.7 160.2,472.0 161.0,424.9 161.8,417.9 162.5,423.9 163.2,439.5 164.0,428.0 164.8,411.6 165.5,417.8 166.2,409.4 167.0,428.8 167.8,427.5 168.5,418.1 169.2,454.0 170.0,447.6 170.8,459.3 171.5,415.0 172.2,466.5 173.0,477.6 173.8,444.1 174.5,428.0 175.2,418.3 176.0,468.6 176.8,451.0 177.5,459.9 178.2,450.3 179.0,425.2 179.8,444.8 180.5,453.1 181.2,440.0 182.0,459.8 182.8,442.8 183.5,471.3 184.2,422.0 185.0,463.7 185.8,456.9 186.5,472.7 187.2,480.7 188.0,468.8 188.8,463.9 189.5,449.8 190.2,479.1 191.0,463.5 191.8,471.0 192.5,465.1 193.2,472.4 194.0,461.1 194.8,518.9 195.5,481.2 196.2,473.3 197.0,474.5 197.8,489.5 198.5,477.7 199.2,499.7 200.0,489.2 200.8,494.4 201.5,509.5 202.2,496.4 203.0,497.8 203.8,499.4 204.5,512.2 205.2,485.3 206.0,505.4 206.8,494.4 207.5,482.5 208.2,442.2 209.0,454.1 209.8,417.6 210.5,426.4 211.2,432.1 212.0,429.7 212.8,417.3 213.5,458.0 214.2,441.3 215.0,470.6 215.8,451.9 216.5,425.8 217.2,485.8 218.0,483.0 218.8,499.7 219.5,470.1 220.2,444.6 221.0,486.3 221.8,469.4 222.5,476.2 223.2,476.0 224.0,477.6 224.8,518.8 225.5,485.2 226.2,466.9 227.0,536.1 227.8,492.0 228.5,485.6 229.2,519.4 230.0,508.5 230.8,475.5 231.5,519.2 232.2,515.7 233.0,506.4 233.8,467.2 234.5,496.1 235.2,462.8 236.0,497.2 236.8,503.6 237.5,508.3 238.2,478.9 239.0,517.9 239.8,491.3 240.5,489.3 241.2,481.9 242.0,503.1 242.8,505.7 243.5,495.2 244.2,484.1 245.0,520.1 245.8,503.0 246.5,513.7 247.2,510.2 248.0,503.4 248.8,490.7 249.5,493.2 250.2,498.3 251.0,462.7 251.8,495.6 252.5,523.4 253.2,510.7 254.0,485.7 254.8,517.4 255.5,503.1 256.2,527.2 257.0,504.4 257.8,492.4 258.5,508.7 259.2,501.3 260.0,521.2 260.8,508.3 261.5,550.1 262.2,535.0 263.0,528.2 263.8,548.8 264.5,562.3 265.2,594.6 266.0,596.4 266.8,597.8 267.5,622.1 268.2,614.0 269.0,618.5 269.8,614.2 270.5,623.6 271.2,609.0 272.0,612.0 272.8,618.1 273.5,621.5 274.2,624.5 275.0,619.1 275.8,618.4 276.5,619.7 277.2,619.1 278.0,617.9 278.8,600.0 279.5,614.3 280.2,617.9 281.0,611.4 281.8,617.7 282.5,622.4 283.2,616.4 284.0,613.3 284.8,611.4 285.5,614.4 286.2,618.3 287.0,621.7 287.8,617.4 288.5,619.8 289.2,598.0 290.0,616.7 290.8,614.5 291.5,624.1 292.2,620.6 293.0,597.0 293.8,615.7 294.5,616.2 295.2,618.8 296.0,615.9 296.8,603.0 297.5,614.5 298.2,612.1 299.0,616.5 299.8,576.0 300.5,619.9 301.2,620.8 302.0,609.0 302.8,615.6 303.5,617.7 304.2,612.2 305.0,617.5 305.8,600.0 306.5,615.0 307.2,621.4 308.0,618.2 308.8,612.2 309.5,613.6 310.2,623.3 311.0,623.9 311.8,588.0 312.5,623.7 313.2,611.9 314.0,625.3 314.8,625.5 315.5,616.5 316.2,603.0 317.0,613.1 317.8,628.9 318.5,618.0 319.2,616.7 320.0,614.4 320.8,615.4 321.5,615.4 322.2,598.0 323.0,620.7 323.8,614.4 324.5,618.8 325.2,614.4 326.0,618.6 326.8,605.0 327.5,625.9 328.2,619.4 329.0,614.0 329.8,622.3 330.5,618.4"/>
<polyline stroke="#7E2F8E" points="44.0,529.1 44.8,528.2 45.5,521.0 46.2,528.3 47.0,515.8 47.8,504.4 48.5,539.9 49.2,528.2 50.0,503.0 50.8,513.3 51.5,517.8 52.2,527.4 53.0,537.2 53.8,526.8 54.5,519.2 55.2,528.0 56.0,520.8 56.8,524.6 57.5,515.8 58.2,510.2 59.0,534.9 59.8,518.8 60.5,523.2 61.2,516.0 62.0,516.7 62.8,518.7 63.5,528.9 64.2,534.6 65.0,528.0 65.8,517.2 66.5,550.9 67.2,531.6 68.0,532.8 68.8,518.2 69.5,521.4 70.2,530.2 71.0,507.0 71.8,516.9 72.5,528.9 73.2,549.3 74.0,529.6 74.8,515.2 75.5,513.7 76.2,535.9 77.0,518.2 77.8,523.0 78.5,546.3 79.2,527.5 80.0,523.4 80.8,519.3 81.5,540.5 82.2,540.6 83.0,520.8 83.8,513.6 84.5,526.7 85.2,541.8 86.0,532.8 86.8,516.2 87.5,531.8 88.2,536.3 89.0,528.5 89.8,530.6 90.5,529.1 91.2,524.1 92.0,522.7 92.8,515.7 93.5,517.6 94.2,512.2 95.0,534.1 95.8,534.6 96.5,530.4 97.2,534.1 98.0,530.4 98.8,522.2 99.5,531.7 100.2,526.5 101.0,527.7 101.8,508.8 102.5,524.3 103.2,533.8 104.0,526.0 104.8,520.9 105.5,513.1 106.2,522.5 107.0,543.4 107.8,522.9 108.5,539.6 109.2,524.2 110.0,539.5 110.8,523.5 111.5,532.6 112.2,535.2 113.0,534.8 113.8,519.1 114.5,525.1 115.2,519.7 116.0,527.0 116.8,525.0 117.5,525.7 118.2,534.2 119.0,517.6 119.8,519.9 120.5,522.0 121.2,525.3 122.0,519.6 122.8,532.6 123.5,516.6 124.2,545.0 125.0,527.7 125.8,538.9 126.5,516.2 127.2,523.8 128.0,528.1 128.8,544.4 129.5,527.7 130.2,541.4 131.0,519.3 131.8,541.3 132.5,519.4 133.2,508.2 134.0,506.1 134.8,527.7 135.5,523.3 136.2,527.7 137.0,524.3 137.8,529.7 138.5,541.0 139.2,522.5 140.0,527.1 140.8,520.2 141.5,506.6 142.2,521.0 143.0,538.6 143.8,515.2 144.5,546.2 145.2,528.6 146.0,527.3 146.8,531.9 147.5,522.3 148.2,522.3 149.0,534.8 149.8,513.8 150.5,519.0 151.2,507.4 152.0,518.8 152.8,546.5 153.5,526.1 154.2,503.3 155.0,493.8 155.8,516.5 156.5,517.9 157.2,504.9 158.0,524.5 158.8,515.6 159.5,518.8 160.2,519.6 161.0,523.4 161.8,508.4 162.5,506.4 163.2,528.6 164.0,515.7 164.8,507.7 165.5,526.5 166.2,521.1 167.0,531.6 167.8,562.2 168.5,549.7 169.2,528.3 170.0,521.4 170.8,534.4 171.5,525.6 172.2,538.2 173.0,539.4 173.8,543.6 174.5,537.7 175.2,524.5 176.0,537.6 176.8,540.3 177.5,542.6 178.2,552.8 179.0,530.9 179.8,539.9 180.5,535.5 181.2,532.8 182.0,546.9 182.8,533.6 183.5,558.4 184.2,513.3 185.0,552.6 185.8,534.8 186.5,524.8 187.2,539.0 188.0,538.9 188.8,548.1 189.5,551.7 190.2,532.4 191.0,541.1 191.8,545.5 192.5,545.2 193.2,541.1 194.0,559.7 194.8,551.0 195.5,536.8 196.2,554.9 197.0,551.5 197.8,552.9 198.5,565.7 199.2,565.2 200.0,563.1 200.8,565.8 201.5,571.4 202.2,557.0 203.0,564.1 203.8,575.3 204.5,556.0 205.2,556.4 206.0,553.6 206.8,568.8 207.5,549.2 208.2,558.4 209.0,536.7 209.8,537.3 210.5,535.8 211.2,527.4 212.0,522.9 212.8,542.8 213.5,529.7 214.2,539.4 215.0,541.9 215.8,523.9 216.5,555.1 217.2,549.0 218.0,549.1 218.8,551.4 219.5,552.4 220.2,561.5 221.0,581.4 221.8,561.2 222.5,553.1 223.2,564.5 224.0,592.0 224.8,576.3 225.5,599.0 226.2,574.7 227.0,575.7 227.8,572.5 228.5,575.0 229.2,584.1 230.0,586.1 230.8,567.4 231.5,574.1 232.2,575.4 233.0,578.0 233.8,594.0 234.5,594.1 235.2,582.1 236.0,584.3 236.8,567.2 237.5,577.7 238.2,555.8 239.0,571.9 239.8,574.8 240.5,579.7 241.2,569.6 242.0,569.2 242.8,559.9 243.5,547.1 244.2,562.9 245.0,550.0 245.8,565.3 246.5,566.4 247.2,555.9 248.0,552.0 248.8,569.1 249.5,565.9 250.2,578.1 251.0,585.1 251.8,595.2 252.5,591.4 253.2,574.8 254.0,585.3 254.8,609.1 255.5,581.3 256.2,588.4 257.0,607.3 257.8,602.0 258.5,592.0 259.2,603.8 260.0,596.5 260.8,613.6 261.5,605.7 262.2,609.8 263.0,613.9 263.8,595.2 264.5,617.4 265.2,626.9 266.0,626.5 266.8,628.2 267.5,628.7 268.2,628.8 269.0,628.8 269.8,628.8 270.5,628.8 271.2,628.8 272.0,628.8 272.8,628.8 273.5,628.8 274.2,628.8 275.0,628.8 275.8,628.8 276.5,628.8 277.2,628.8 278.0,628.8 278.8,628.8 279.5,628.8 280.2,628.8 281.0,628.8 281.8,628.8 282.5,628.8 283.2,628.8 284.0,628.8 284.8,628.8 285.5,628.8 286.2,628.8 287.0,628.8 287.8,628.8 288.5,628.8 289.2,628.8 290.0,628.8 290.8,628.8 291.5,628.8 292.2,628.8 293.0,628.8 293.8,628.8 294.5,628.8 295.2,628.8 296.0,628.8 296.8,628.8 297.5,628.8 298.2,628.8 299.0,628.8 299.8,628.8 300.5,628.8 301.2,628.8 302.0,628.8 302.8,628.8 303.5,628.8 304.2,628.8 305.0,628.8 305.8,628.8 306.5,628.8 307.2,628.8 308.0,628.8 308.8,628.8 309.5,628.8 310.2,628.8 311.0,628.8 311.8,628.8 312.5,628.8 313.2,628.8 314.0,628.8 314.8,628.8 315.5,628.8 316.2,628.8 317.0,628.8 317.8,628.8 318.5,628.8 319.2,628.8 320.0,628.8 320.8,628.8 321.5,628.8 322.2,628.8 323.0,628.8 323.8,628.8 324.5,628.8 325.2,628.8 326.0,628.8 326.8,628.8 327.5,628.8 328.2,628.8 329.0,628.8 329.8,628.8 330.5,628.8"/>
</g>
<rect x="43.9" y="386.4" width="287.3" height="246.6" fill="none" stroke="#1c1c1c" stroke-width="1.5"/>
<path d="M58.5 633v-4M109.05 633v-4M159.6 633v-4M210.15 633v-4M260.7 633v-4M311.25 633v-4M58.5 386.4v4M109.05 386.4v4M159.6 386.4v4M210.15 386.4v4M260.7 386.4v4M311.25 386.4v4M43.9 628.9h4M331.2 628.9h-4M43.9 592.9h4M331.2 592.9h-4M43.9 556.9h4M331.2 556.9h-4M43.9 520.9h4M331.2 520.9h-4M43.9 484.9h4M331.2 484.9h-4M43.9 448.9h4M331.2 448.9h-4M43.9 412.9h4M331.2 412.9h-4" stroke="#1c1c1c" stroke-width="1.5" fill="none"/>
<text x="41.9" y="632.2" font-size="16" text-anchor="end" >0</text>
<text x="41.9" y="596.2" font-size="16" text-anchor="end" >5</text>
<text x="41.9" y="560.2" font-size="16" text-anchor="end" >10</text>
<text x="41.9" y="524.2" font-size="16" text-anchor="end" >15</text>
<text x="41.9" y="488.2" font-size="16" text-anchor="end" >20</text>
<text x="41.9" y="452.2" font-size="16" text-anchor="end" >25</text>
<text x="41.9" y="416.2" font-size="16" text-anchor="end" >30</text>
<text x="58.1" y="646.9" font-size="16" text-anchor="middle" >2000</text>
<text x="108.65" y="646.9" font-size="16" text-anchor="middle" >1500</text>
<text x="159.2" y="646.9" font-size="16" text-anchor="middle" >1000</text>
<text x="209.75" y="646.9" font-size="16" text-anchor="middle" >500</text>
<text x="260.3" y="646.9" font-size="16" text-anchor="middle" >0</text>
<text x="71.9" y="660.4" font-size="16" text-anchor="start" >Distance to Center of Target (nm)</text>
<text transform="translate(11.9 386.5) rotate(-90)" font-size="16" text-anchor="end">Integrated PSF Intensity (arb. units)</text>
<text x="36" y="360.9" font-size="16" text-anchor="start" >Large Stokes Shift 40 nm Diameter Beads</text>
<text x="21.1" y="379.8" font-size="16" text-anchor="start" >Excitation 470 ± 10 nm Detection 698 ± 45 nm</text>
<text x="4.2" y="352.4" font-size="26" text-anchor="start" transform="translate(4.2 352.4) scale(1.07 1) translate(-4.2 -352.4)">c</text>
<defs><clipPath id="clipD"><rect x="391" y="386.1" width="293" height="246.7"/></clipPath></defs>
<g clip-path="url(#clipD)" fill="none">
<polyline stroke="#4A72C8" stroke-width="0.85" stroke-dasharray="3.2 2.3" points="492.9,415.3 493.2,414.7 493.5,414.2 493.8,413.5 494.1,412.9 494.4,412.3 494.7,411.6 495.0,410.9 495.3,410.2 495.6,409.5 495.9,408.7 496.2,408.0 496.5,407.3 496.8,406.5 497.1,405.8 497.4,405.1 497.7,404.4 498.0,403.7 498.3,403.0 498.6,402.3 498.9,401.7 499.2,401.0 499.5,400.4 499.8,399.9 500.1,399.3 500.4,398.8 500.7,398.3 501.0,397.9 501.3,397.5 501.6,397.1 501.9,396.8 502.2,396.5 502.5,396.3 502.8,396.1 503.1,396.0 503.4,395.9 503.7,395.8 503.9,395.8 504.2,395.9 504.5,396.0 504.8,396.3 505.1,396.6 505.4,397.0 505.7,397.6 506.0,398.2 506.3,398.9 506.6,399.7 506.9,400.5 507.2,401.5 507.5,402.4 507.8,403.5 508.1,404.5 508.4,405.6 508.7,406.8 509.0,407.9 509.3,409.1 509.6,410.3 509.9,411.4 510.2,412.6 510.5,413.7 510.8,414.8 511.1,415.8 511.4,416.8 511.7,417.8 512.0,418.6 512.3,419.4 512.6,420.2 512.9,420.8 513.2,421.4 513.5,421.9 513.8,422.2 514.1,422.5 514.4,422.7 514.7,422.8 514.8,422.8 515.1,422.8 515.4,422.6 515.7,422.4 516.0,422.0 516.3,421.6 516.6,421.1 516.9,420.4 517.2,419.7 517.5,419.0 517.8,418.1 518.1,417.2 518.4,416.2 518.7,415.2 519.0,414.1 519.3,413.0 519.6,411.9 519.9,410.7 520.2,409.5 520.5,408.4 520.8,407.2 521.1,406.0 521.4,404.8 521.7,403.7 522.0,402.6 522.3,401.5 522.6,400.5 522.9,399.6 523.2,398.7 523.5,397.9 523.8,397.1 524.1,396.4 524.4,395.9 524.7,395.4 525.0,395.0 525.3,394.7 525.6,394.4 525.9,394.3 526.1,394.3 526.4,394.4 526.7,394.6 527.0,394.9 527.3,395.4 527.6,396.1 527.9,396.8 528.2,397.7 528.5,398.7 528.8,399.8 529.1,401.0 529.4,402.4 529.7,403.8 530.0,405.2 530.3,406.8 530.6,408.4 530.9,410.0 531.2,411.7 531.5,413.4 531.8,415.1 532.1,416.8 532.4,418.4 532.7,420.1 533.0,421.7 533.3,423.3 533.6,424.8 533.9,426.2 534.2,427.5 534.5,428.8 534.8,429.9 535.1,431.0 535.4,431.9 535.7,432.7 536.0,433.4 536.3,433.9 536.6,434.3 536.9,434.6 537.2,434.7 537.3,434.7 537.6,434.6 537.9,434.4 538.2,434.1 538.5,433.6 538.8,433.0 539.1,432.2 539.4,431.4 539.7,430.4 540.0,429.3 540.3,428.1 540.6,426.8 540.9,425.4 541.2,423.9 541.5,422.3 541.8,420.7 542.1,419.1 542.4,417.4 542.7,415.6 543.0,413.9 543.3,412.1 543.6,410.3 543.9,408.6 544.2,406.9 544.5,405.2 544.8,403.5 545.1,401.9 545.4,400.4 545.7,399.0 546.0,397.6 546.3,396.3 546.6,395.2 546.9,394.1 547.2,393.1 547.5,392.3 547.8,391.6 548.1,391.0 548.4,390.6 548.7,390.3 549.0,390.1 549.2,390.1 549.5,390.2 549.8,390.6 550.1,391.2 550.4,392.0 550.7,393.1 551.0,394.4 551.3,395.8 551.6,397.5 551.9,399.4 552.2,401.4 552.5,403.6 552.8,406.0 553.1,408.4 553.4,410.9 553.7,413.6 554.0,416.2 554.3,418.9 554.6,421.7 554.9,424.4 555.2,427.1 555.5,429.7 555.8,432.3 556.1,434.7 556.4,437.1 556.7,439.3 557.0,441.4 557.3,443.4 557.6,445.1 557.9,446.7 558.2,448.0 558.5,449.2 558.8,450.1 559.1,450.7 559.4,451.2 559.7,451.4 559.8,451.4 560.1,451.3 560.4,450.9 560.7,450.4 561.0,449.6 561.3,448.6 561.6,447.3 561.9,445.9 562.2,444.3 562.5,442.5 562.8,440.5 563.1,438.4 563.4,436.1 563.7,433.7 564.0,431.1 564.3,428.5 564.6,425.8 564.9,423.0 565.2,420.2 565.5,417.3 565.8,414.5 566.1,411.6 566.4,408.8 566.7,406.0 567.0,403.3 567.3,400.7 567.6,398.2 567.9,395.7 568.2,393.4 568.5,391.3 568.8,389.3 569.1,387.5 569.4,385.9 569.7,384.5 570.0,383.2 570.3,382.2 570.6,381.4 570.9,380.9 571.2,380.5 571.5,380.4 571.5,380.4 571.8,380.5 572.1,381.0 572.4,381.7 572.7,382.7 573.0,384.0 573.3,385.6 573.6,387.4 573.9,389.5 574.2,391.8 574.5,394.4 574.8,397.1 575.1,400.1 575.4,403.2 575.7,406.5 576.0,409.9 576.3,413.4 576.6,417.0 576.9,420.7 577.2,424.4 577.5,428.1 577.8,431.9 578.1,435.6 578.4,439.3 578.7,442.9 579.0,446.4 579.3,449.8 579.6,453.1 579.9,456.2 580.2,459.2 580.5,461.9 580.8,464.5 581.1,466.8 581.4,468.9 581.7,470.7 582.0,472.3 582.3,473.6 582.6,474.6 582.9,475.3 583.2,475.8 583.5,475.9 583.8,475.7 584.1,475.0 584.4,473.8 584.7,472.1 585.0,470.1 585.3,467.6 585.6,464.6 585.9,461.3 586.2,457.7 586.5,453.7 586.8,449.5 587.1,445.0 587.4,440.2 587.7,435.3 588.0,430.3 588.3,425.2 588.6,420.0 588.9,414.8 589.2,409.6 589.5,404.5 589.8,399.6 590.1,394.8 590.4,390.2 590.7,385.9 591.0,381.8 591.3,378.0 591.6,374.6 591.9,371.6 592.2,368.9 592.5,366.7 592.8,364.9 593.1,363.6 593.4,362.7 593.7,362.3 593.8,362.3 594.1,362.5 594.4,363.2 594.7,364.3 595.0,365.9 595.3,367.9 595.6,370.3 595.9,373.2 596.2,376.4 596.5,380.0 596.8,383.9 597.1,388.2 597.4,392.7 597.7,397.5 598.0,402.6 598.3,407.9 598.6,413.3 598.9,418.9 599.2,424.6 599.5,430.3 599.8,436.1 600.1,441.9 600.4,447.6 600.7,453.3 601.0,458.9 601.3,464.3 601.6,469.6 601.9,474.7 602.2,479.5 602.5,484.0 602.8,488.3 603.1,492.2 603.4,495.8 603.7,499.0 604.0,501.9 604.3,504.3"/>
<polyline stroke="#4A72C8" stroke-width="0.85" stroke-dasharray="3.2 2.3" points="492.9,505.3 493.2,504.7 493.5,504.2 493.8,503.5 494.1,502.9 494.4,502.3 494.7,501.6 495.0,500.9 495.3,500.2 495.6,499.5 495.9,498.7 496.2,498.0 496.5,497.3 496.8,496.5 497.1,495.8 497.4,495.1 497.7,494.4 498.0,493.7 498.3,493.0 498.6,492.3 498.9,491.7 499.2,491.0 499.5,490.4 499.8,489.9 500.1,489.3 500.4,488.8 500.7,488.3 501.0,487.9 501.3,487.5 501.6,487.1 501.9,486.8 502.2,486.5 502.5,486.3 502.8,486.1 503.1,486.0 503.4,485.9 503.7,485.8 503.9,485.8 504.2,485.9 504.5,486.0 504.8,486.3 505.1,486.6 505.4,487.0 505.7,487.6 506.0,488.2 506.3,488.9 506.6,489.7 506.9,490.5 507.2,491.5 507.5,492.4 507.8,493.5 508.1,494.5 508.4,495.6 508.7,496.8 509.0,497.9 509.3,499.1 509.6,500.3 509.9,501.4 510.2,502.6 510.5,503.7 510.8,504.8 511.1,505.8 511.4,506.8 511.7,507.8 512.0,508.6 512.3,509.4 512.6,510.2 512.9,510.8 513.2,511.4 513.5,511.9 513.8,512.2 514.1,512.5 514.4,512.7 514.7,512.8 514.8,512.8 515.1,512.8 515.4,512.6 515.7,512.4 516.0,512.0 516.3,511.6 516.6,511.1 516.9,510.4 517.2,509.7 517.5,509.0 517.8,508.1 518.1,507.2 518.4,506.2 518.7,505.2 519.0,504.1 519.3,503.0 519.6,501.9 519.9,500.7 520.2,499.5 520.5,498.4 520.8,497.2 521.1,496.0 521.4,494.8 521.7,493.7 522.0,492.6 522.3,491.5 522.6,490.5 522.9,489.6 523.2,488.7 523.5,487.9 523.8,487.1 524.1,486.4 524.4,485.9 524.7,485.4 525.0,485.0 525.3,484.7 525.6,484.4 525.9,484.3 526.1,484.3 526.4,484.4 526.7,484.6 527.0,484.9 527.3,485.4 527.6,486.1 527.9,486.8 528.2,487.7 528.5,488.7 528.8,489.8 529.1,491.0 529.4,492.4 529.7,493.8 530.0,495.2 530.3,496.8 530.6,498.4 530.9,500.0 531.2,501.7 531.5,503.4 531.8,505.1 532.1,506.8 532.4,508.4 532.7,510.1 533.0,511.7 533.3,513.3 533.6,514.8 533.9,516.2 534.2,517.5 534.5,518.8 534.8,519.9 535.1,521.0 535.4,521.9 535.7,522.7 536.0,523.4 536.3,523.9 536.6,524.3 536.9,524.6 537.2,524.7 537.3,524.7 537.6,524.6 537.9,524.4 538.2,524.1 538.5,523.6 538.8,523.0 539.1,522.2 539.4,521.4 539.7,520.4 540.0,519.3 540.3,518.1 540.6,516.8 540.9,515.4 541.2,513.9 541.5,512.3 541.8,510.7 542.1,509.1 542.4,507.4 542.7,505.6 543.0,503.9 543.3,502.1 543.6,500.3 543.9,498.6 544.2,496.9 544.5,495.2 544.8,493.5 545.1,491.9 545.4,490.4 545.7,489.0 546.0,487.6 546.3,486.3 546.6,485.2 546.9,484.1 547.2,483.1 547.5,482.3 547.8,481.6 548.1,481.0 548.4,480.6 548.7,480.3 549.0,480.1 549.2,480.1 549.5,480.2 549.8,480.6 550.1,481.2 550.4,482.0 550.7,483.1 551.0,484.4 551.3,485.8 551.6,487.5 551.9,489.4 552.2,491.4 552.5,493.6 552.8,496.0 553.1,498.4 553.4,500.9 553.7,503.6 554.0,506.2 554.3,508.9 554.6,511.7 554.9,514.4 555.2,517.1 555.5,519.7 555.8,522.3 556.1,524.7 556.4,527.1 556.7,529.3 557.0,531.4 557.3,533.4 557.6,535.1 557.9,536.7 558.2,538.0 558.5,539.2 558.8,540.1 559.1,540.7 559.4,541.2 559.7,541.4 559.8,541.4 560.1,541.3 560.4,540.9 560.7,540.4 561.0,539.6 561.3,538.6 561.6,537.3 561.9,535.9 562.2,534.3 562.5,532.5 562.8,530.5 563.1,528.4 563.4,526.1 563.7,523.7 564.0,521.1 564.3,518.5 564.6,515.8 564.9,513.0 565.2,510.2 565.5,507.3 565.8,504.5 566.1,501.6 566.4,498.8 566.7,496.0 567.0,493.3 567.3,490.7 567.6,488.2 567.9,485.7 568.2,483.4 568.5,481.3 568.8,479.3 569.1,477.5 569.4,475.9 569.7,474.5 570.0,473.2 570.3,472.2 570.6,471.4 570.9,470.9 571.2,470.5 571.5,470.4 571.5,470.4 571.8,470.5 572.1,471.0 572.4,471.7 572.7,472.7 573.0,474.0 573.3,475.6 573.6,477.4 573.9,479.5 574.2,481.8 574.5,484.4 574.8,487.1 575.1,490.1 575.4,493.2 575.7,496.5 576.0,499.9 576.3,503.4 576.6,507.0 576.9,510.7 577.2,514.4 577.5,518.1 577.8,521.9 578.1,525.6 578.4,529.3 578.7,532.9 579.0,536.4 579.3,539.8 579.6,543.1 579.9,546.2 580.2,549.2 580.5,551.9 580.8,554.5 581.1,556.8 581.4,558.9 581.7,560.7 582.0,562.3 582.3,563.6 582.6,564.6 582.9,565.3 583.2,565.8 583.5,565.9 583.8,565.7 584.1,565.0 584.4,563.8 584.7,562.1 585.0,560.1 585.3,557.6 585.6,554.6 585.9,551.3 586.2,547.7 586.5,543.7 586.8,539.5 587.1,535.0 587.4,530.2 587.7,525.3 588.0,520.3 588.3,515.2 588.6,510.0 588.9,504.8 589.2,499.6 589.5,494.5 589.8,489.6 590.1,484.8 590.4,480.2 590.7,475.9 591.0,471.8 591.3,468.0 591.6,464.6 591.9,461.6 592.2,458.9 592.5,456.7 592.8,454.9 593.1,453.6 593.4,452.7 593.7,452.3 593.8,452.3 594.1,452.5 594.4,453.2 594.7,454.3 595.0,455.9 595.3,457.9 595.6,460.3 595.9,463.2 596.2,466.4 596.5,470.0 596.8,473.9 597.1,478.2 597.4,482.7 597.7,487.5 598.0,492.6 598.3,497.9 598.6,503.3 598.9,508.9 599.2,514.6 599.5,520.3 599.8,526.1 600.1,531.9 600.4,537.6 600.7,543.3 601.0,548.9 601.3,554.3 601.6,559.6 601.9,564.7 602.2,569.5 602.5,574.0 602.8,578.3 603.1,582.2 603.4,585.8 603.7,589.0 604.0,591.9 604.3,594.3"/>
<polyline stroke="#000" stroke-width="1.7" stroke-linejoin="round" points="391.5,492.0 392.4,483.4 393.3,473.8 394.2,477.4 395.1,452.8 396.0,482.0 396.9,468.5 397.8,452.2 398.7,449.6 399.6,450.0 400.5,424.0 401.4,480.8 402.3,477.2 403.2,459.2 404.1,437.0 405.0,490.1 405.9,477.3 406.8,456.0 407.7,465.3 408.6,463.6 409.5,471.9 410.4,480.8 411.3,465.9 412.2,473.4 413.1,475.4 414.0,477.8 414.9,460.1 415.8,465.2 416.7,492.7 417.6,465.7 418.5,468.4 419.4,473.5 420.3,459.5 421.2,459.2 422.1,483.1 423.0,478.6 423.9,450.3 424.8,467.0 425.7,451.6 426.6,448.7 427.5,466.6 428.4,483.8 429.3,461.8 430.2,480.1 431.1,447.5 432.0,461.5 432.9,460.0 433.8,459.5 434.7,470.5 435.6,465.3 436.5,451.9 437.4,442.8 438.3,453.1 439.2,457.7 440.1,447.6 441.0,433.0 441.9,430.3 442.8,463.8 443.7,458.7 444.6,452.3 445.5,472.2 446.4,484.7 447.3,494.0 448.2,476.6 449.1,490.9 450.0,484.4 450.9,489.7 451.8,483.0 452.7,473.6 453.6,472.8 454.5,498.0 455.4,478.3 456.3,477.8 457.2,470.9 458.1,480.6 459.0,483.5 459.9,467.3 460.8,472.9 461.7,452.8 462.6,457.7 463.5,451.0 464.4,464.0 465.3,452.1 466.2,445.4 467.1,452.1 468.0,428.8 468.9,453.3 469.8,463.7 470.7,477.2 471.6,449.7 472.5,459.5 473.4,438.0 474.3,478.0 475.2,456.0 476.1,458.1 477.0,433.2 477.9,446.5 478.8,440.4 479.7,432.5 480.6,433.9 481.5,438.5 482.4,441.8 483.3,433.2 484.2,474.1 485.1,459.3 486.0,462.4 486.9,462.6 487.8,457.9 488.7,459.7 489.6,467.3 490.5,457.1 491.4,476.2 492.3,457.7 493.2,473.8 494.1,446.4 495.0,458.9 495.9,461.5 496.8,467.2 497.7,465.6 498.6,434.7 499.5,436.5 500.4,432.0 501.3,436.2 502.2,421.0 503.1,453.3 504.0,448.7 504.9,429.9 505.8,441.7 506.7,469.1 507.6,451.3 508.5,451.9 509.4,455.0 510.3,477.2 511.2,441.7 512.1,466.8 513.0,463.9 513.9,468.2 514.8,469.9 515.7,457.9 516.6,460.2 517.5,453.5 518.4,460.9 519.3,412.4 520.2,436.8 521.1,438.8 522.0,420.6 522.9,453.3 523.8,442.4 524.7,415.1 525.6,432.5 526.5,445.4 527.4,440.7 528.3,434.0 529.2,454.7 530.1,455.6 531.0,444.8 531.9,457.6 532.8,481.7 533.7,486.1 534.6,465.5 535.5,473.6 536.4,500.6 537.3,490.0 538.2,479.5 539.1,468.8 540.0,467.6 540.9,469.0 541.8,423.0 542.7,457.6 543.6,432.2 544.5,423.7 545.4,428.3 546.3,420.2 547.2,418.9 548.1,430.2 549.0,423.0 549.9,439.3 550.8,408.2 551.7,439.3 552.6,420.2 553.5,444.3 554.4,446.7 555.3,471.2 556.2,452.6 557.1,479.7 558.0,509.8 558.9,512.7 559.8,491.9 560.7,498.3 561.6,493.0 562.5,475.4 563.4,473.2 564.3,461.3 565.2,413.7 566.1,440.5 567.0,468.4 567.9,414.1 568.8,413.0 569.7,419.7 570.6,414.1 571.5,424.7 572.4,431.5 573.3,461.4 574.2,438.1 575.1,453.0 576.0,449.4 576.9,448.7 577.8,461.9 578.7,466.1 579.6,505.3 580.5,491.8 581.4,483.3 582.3,506.7 583.2,536.5 584.1,515.8 585.0,508.3 585.9,502.8 586.8,482.0 587.7,461.6 588.6,480.2 589.5,411.0 590.4,433.2 591.3,417.6 592.2,418.3 593.1,409.3 594.0,435.5 594.9,446.2 595.8,433.4 596.7,420.5 597.6,432.2 598.5,442.9 599.4,443.2 600.3,459.7 601.2,483.2 602.1,494.6 603.0,501.3 603.9,512.5 604.8,526.8 605.7,533.1 606.6,539.9 607.5,535.5 608.4,524.7 609.3,514.6 610.2,510.6 611.1,499.8 612.0,499.3 612.9,504.4 613.8,497.3 614.7,504.9 615.6,508.2 616.5,509.3 617.4,498.3 618.3,501.6 619.2,500.1 620.1,509.5 621.0,513.0 621.9,508.3 622.8,511.6 623.7,516.7 624.6,527.1 625.5,526.1 626.4,537.8 627.3,534.5 628.2,536.5 629.1,547.2 630.0,545.2 630.9,546.1 631.8,559.4 632.7,560.6 633.6,557.4 634.5,567.9 635.4,569.8 636.3,576.5 637.2,588.4 638.1,600.9 639.0,617.2 639.9,624.5 640.8,623.4 641.7,622.8 642.6,622.3 643.5,623.1 644.4,628.2 645.3,629.4 646.2,630.2 647.1,630.1 648.0,629.8 648.9,630.5 649.8,630.5 650.7,630.4 651.6,630.6 652.5,630.2 653.4,630.2 654.3,630.5 655.2,630.3 656.1,629.9 657.0,630.2 657.9,630.2 658.8,630.6 659.7,630.2 660.6,630.0 661.5,629.9 662.4,630.2 663.3,630.0 664.2,630.2 665.1,629.9 666.0,629.8 666.9,630.1 667.8,630.3 668.7,630.2 669.6,629.8 670.5,630.1 671.4,630.4 672.3,630.3 673.2,630.0 674.1,630.1 675.0,630.1 675.9,630.2 676.8,630.1 677.7,630.3 678.6,628.0 679.5,625.2 680.4,625.2 681.3,625.2 682.2,624.9 683.1,624.9 684.0,625.2"/>
<polyline stroke="#E5202E" stroke-width="2" points="494.1,457.9 494.4,457.3 494.7,456.6 495.0,455.9 495.3,455.2 495.6,454.5 495.9,453.7 496.2,453.0 496.5,452.3 496.8,451.5 497.1,450.8 497.4,450.1 497.7,449.4 498.0,448.7 498.3,448.0 498.6,447.3 498.9,446.7 499.2,446.0 499.5,445.4 499.8,444.9 500.1,444.3 500.4,443.8 500.7,443.3 501.0,442.9 501.3,442.5 501.6,442.1 501.9,441.8 502.2,441.5 502.5,441.3 502.8,441.1 503.1,441.0 503.4,440.9 503.7,440.8 503.9,440.8 504.2,440.9 504.5,441.0 504.8,441.3 505.1,441.6 505.4,442.0 505.7,442.6 506.0,443.2 506.3,443.9 506.6,444.7 506.9,445.5 507.2,446.5 507.5,447.4 507.8,448.5 508.1,449.5 508.4,450.6 508.7,451.8 509.0,452.9 509.3,454.1 509.6,455.3 509.9,456.4 510.2,457.6 510.5,458.7 510.8,459.8 511.1,460.8 511.4,461.8 511.7,462.8 512.0,463.6 512.3,464.4 512.6,465.2 512.9,465.8 513.2,466.4 513.5,466.9 513.8,467.2 514.1,467.5 514.4,467.7 514.7,467.8 514.8,467.8 515.1,467.8 515.4,467.6 515.7,467.4 516.0,467.0 516.3,466.6 516.6,466.1 516.9,465.4 517.2,464.7 517.5,464.0 517.8,463.1 518.1,462.2 518.4,461.2 518.7,460.2 519.0,459.1 519.3,458.0 519.6,456.9 519.9,455.7 520.2,454.5 520.5,453.4 520.8,452.2 521.1,451.0 521.4,449.8 521.7,448.7 522.0,447.6 522.3,446.5 522.6,445.5 522.9,444.6 523.2,443.7 523.5,442.9 523.8,442.1 524.1,441.4 524.4,440.9 524.7,440.4 525.0,440.0 525.3,439.7 525.6,439.4 525.9,439.3 526.1,439.3 526.4,439.4 526.7,439.6 527.0,439.9 527.3,440.4 527.6,441.1 527.9,441.8 528.2,442.7 528.5,443.7 528.8,444.8 529.1,446.0 529.4,447.4 529.7,448.8 530.0,450.2 530.3,451.8 530.6,453.4 530.9,455.0 531.2,456.7 531.5,458.4 531.8,460.1 532.1,461.8 532.4,463.4 532.7,465.1 533.0,466.7 533.3,468.3 533.6,469.8 533.9,471.2 534.2,472.5 534.5,473.8 534.8,474.9 535.1,476.0 535.4,476.9 535.7,477.7 536.0,478.4 536.3,478.9 536.6,479.3 536.9,479.6 537.2,479.7 537.3,479.7 537.6,479.6 537.9,479.4 538.2,479.1 538.5,478.6 538.8,478.0 539.1,477.2 539.4,476.4 539.7,475.4 540.0,474.3 540.3,473.1 540.6,471.8 540.9,470.4 541.2,468.9 541.5,467.3 541.8,465.7 542.1,464.1 542.4,462.4 542.7,460.6 543.0,458.9 543.3,457.1 543.6,455.3 543.9,453.6 544.2,451.9 544.5,450.2 544.8,448.5 545.1,446.9 545.4,445.4 545.7,444.0 546.0,442.6 546.3,441.3 546.6,440.2 546.9,439.1 547.2,438.1 547.5,437.3 547.8,436.6 548.1,436.0 548.4,435.6 548.7,435.3 549.0,435.1 549.2,435.1 549.5,435.2 549.8,435.6 550.1,436.2 550.4,437.0 550.7,438.1 551.0,439.4 551.3,440.8 551.6,442.5 551.9,444.4 552.2,446.4 552.5,448.6 552.8,451.0 553.1,453.4 553.4,455.9 553.7,458.6 554.0,461.2 554.3,463.9 554.6,466.7 554.9,469.4 555.2,472.1 555.5,474.7 555.8,477.3 556.1,479.7 556.4,482.1 556.7,484.3 557.0,486.4 557.3,488.4 557.6,490.1 557.9,491.7 558.2,493.0 558.5,494.2 558.8,495.1 559.1,495.7 559.4,496.2 559.7,496.4 559.8,496.4 560.1,496.3 560.4,495.9 560.7,495.4 561.0,494.6 561.3,493.6 561.6,492.3 561.9,490.9 562.2,489.3 562.5,487.5 562.8,485.5 563.1,483.4 563.4,481.1 563.7,478.7 564.0,476.1 564.3,473.5 564.6,470.8 564.9,468.0 565.2,465.2 565.5,462.3 565.8,459.5 566.1,456.6 566.4,453.8 566.7,451.0 567.0,448.3 567.3,445.7 567.6,443.2 567.9,440.7 568.2,438.4 568.5,436.3 568.8,434.3 569.1,432.5 569.4,430.9 569.7,429.5 570.0,428.2 570.3,427.2 570.6,426.4 570.9,425.9 571.2,425.5 571.5,425.4 571.5,425.4 571.8,425.5 572.1,426.0 572.4,426.7 572.7,427.7 573.0,429.0 573.3,430.6 573.6,432.4 573.9,434.5 574.2,436.8 574.5,439.4 574.8,442.1 575.1,445.1 575.4,448.2 575.7,451.5 576.0,454.9 576.3,458.4 576.6,462.0 576.9,465.7 577.2,469.4 577.5,473.1 577.8,476.9 578.1,480.6 578.4,484.3 578.7,487.9 579.0,491.4 579.3,494.8 579.6,498.1 579.9,501.2 580.2,504.2 580.5,506.9 580.8,509.5 581.1,511.8 581.4,513.9 581.7,515.7 582.0,517.3 582.3,518.6 582.6,519.6 582.9,520.3 583.2,520.8 583.5,520.9 583.8,520.7 584.1,520.0 584.4,518.8 584.7,517.1 585.0,515.1 585.3,512.6 585.6,509.6 585.9,506.3 586.2,502.7 586.5,498.7 586.8,494.5 587.1,490.0 587.4,485.2 587.7,480.3 588.0,475.3 588.3,470.2 588.6,465.0 588.9,459.8 589.2,454.6 589.5,449.5 589.8,444.6 590.1,439.8 590.4,435.2 590.7,430.9 591.0,426.8 591.3,423.0 591.6,419.6 591.9,416.6 592.2,413.9 592.5,411.7 592.8,409.9 593.1,408.6 593.4,407.7 593.7,407.3 593.8,407.3 594.1,407.5 594.4,408.2 594.7,409.3 595.0,410.9 595.3,412.9 595.6,415.3 595.9,418.2 596.2,421.4 596.5,425.0 596.8,428.9 597.1,433.2 597.4,437.7 597.7,442.5 598.0,447.6 598.3,452.9 598.6,458.3 598.9,463.9 599.2,469.6 599.5,475.3 599.8,481.1 600.1,486.9 600.4,492.6 600.7,498.3 601.0,503.9 601.3,509.3 601.6,514.6 601.9,519.7 602.2,524.5 602.5,529.0 602.8,533.3 603.1,537.2 603.4,540.8 603.7,544.0 604.0,546.9 604.3,549.3 604.6,551.3 604.9,552.9 605.2,554.0 605.5,554.7 605.8,554.9 606.1,554.6 606.4,553.9 606.7,552.6 607.0,550.8 607.3,548.5 607.6,545.7 607.9,542.4 608.2,538.7 608.5,534.6 608.8,530.1"/>
</g>
<rect x="397.6" y="567.6" width="218.6" height="53.5" fill="#fff" stroke="#6a6a6a" stroke-width="1.1"/>
<line x1="401.4" y1="575.6" x2="414.3" y2="575.6" stroke="#000" stroke-width="1.6"/>
<line x1="401.4" y1="595.1" x2="414.3" y2="595.1" stroke="#E5202E" stroke-width="1.6"/>
<line x1="401.4" y1="614.1" x2="414.3" y2="614.1" stroke="#4A72C8" stroke-width="1.6"/>
<text x="417.4" y="580.8" font-size="16">Experimental</text>
<text x="417.4" y="600.2" font-size="16">Fit λ = 486 ± 7.3 nm</text>
<text x="417.4" y="619.3" font-size="16">Prediction bounds - 99% CI</text>
<rect x="391" y="386.1" width="293" height="247.1" fill="none" stroke="#1c1c1c" stroke-width="1.5"/>
<path d="M420.9 633.2v-4M463.3 633.2v-4M505.7 633.2v-4M548.1 633.2v-4M590.5 633.2v-4M632.9 633.2v-4M675.3 633.2v-4M420.9 386.1v4M463.3 386.1v4M505.7 386.1v4M548.1 386.1v4M590.5 386.1v4M632.9 386.1v4M675.3 386.1v4M391 629h4M684 629h-4M391 578.7h4M684 578.7h-4M391 528.4h4M684 528.4h-4M391 478.1h4M684 478.1h-4M391 427.8h4M684 427.8h-4" stroke="#1c1c1c" stroke-width="1.5" fill="none"/>
<text x="389" y="635.5" font-size="16" text-anchor="end" >0</text>
<text x="389" y="585.2" font-size="16" text-anchor="end" >5</text>
<text x="389" y="534.9" font-size="16" text-anchor="end" >10</text>
<text x="389" y="484.6" font-size="16" text-anchor="end" >15</text>
<text x="389" y="434.3" font-size="16" text-anchor="end" >20</text>
<text x="421.6" y="647" font-size="16" text-anchor="middle" >2500</text>
<text x="464" y="647" font-size="16" text-anchor="middle" >2000</text>
<text x="506.4" y="647" font-size="16" text-anchor="middle" >1500</text>
<text x="548.8" y="647" font-size="16" text-anchor="middle" >1000</text>
<text x="591.2" y="647" font-size="16" text-anchor="middle" >500</text>
<text x="633.6" y="647" font-size="16" text-anchor="middle" >0</text>
<text x="422.9" y="660.4" font-size="16" text-anchor="start" >Distance to Center of Target (nm)</text>
<text transform="translate(361.4 384.9) rotate(-90)" font-size="16" text-anchor="end">Integrated PSF Intensity (arb. units)</text>
<text x="394.9" y="379.3" font-size="16" text-anchor="start" >Fitting of Oscillations in Averaged Trace</text>
<text x="348.3" y="351.8" font-size="26" text-anchor="start" transform="translate(348.3 351.8) scale(1.08 1) translate(-348.3 -351.8)">d</text>
</svg></body></html>
